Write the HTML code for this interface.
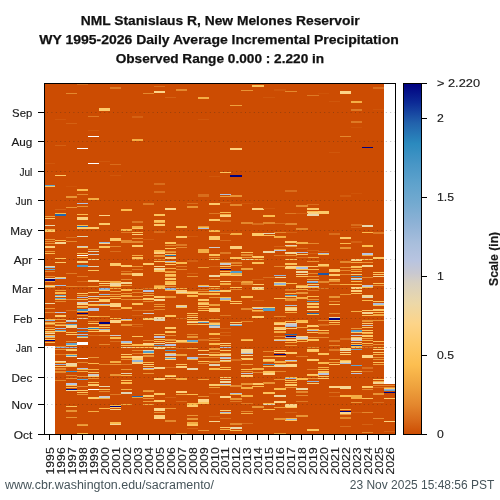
<!DOCTYPE html>
<html><head><meta charset="utf-8"><style>
html,body{margin:0;padding:0;background:#fff;width:500px;height:500px;overflow:hidden}
svg{display:block;will-change:transform}
text{font-family:"Liberation Sans",sans-serif;}
.tl{font-size:10.8px;fill:#1a1a1a;stroke:#1a1a1a;stroke-width:0.15px}
.tt{font-size:13.5px;font-weight:bold;fill:#111;stroke:#111;stroke-width:0.25px}
.ft{font-size:12px;fill:#46545a}
</style></head><body>
<svg width="500" height="500" viewBox="0 0 500 500">
<defs><filter id="vb" x="0" y="0" width="1" height="1"><feGaussianBlur stdDeviation="0.01 0.6"/></filter><linearGradient id="cb" x1="0" y1="1" x2="0" y2="0"><stop offset="0.0000" stop-color="#cc4c02"/><stop offset="0.0405" stop-color="#d86a1a"/><stop offset="0.0856" stop-color="#e4882e"/><stop offset="0.1441" stop-color="#f0a640"/><stop offset="0.1982" stop-color="#fcbe50"/><stop offset="0.2568" stop-color="#fdca6a"/><stop offset="0.3153" stop-color="#fdd488"/><stop offset="0.3739" stop-color="#ecd8a8"/><stop offset="0.4324" stop-color="#d8d0c0"/><stop offset="0.4595" stop-color="#c8c8d0"/><stop offset="0.4955" stop-color="#b8c4e0"/><stop offset="0.5450" stop-color="#a8bedc"/><stop offset="0.5991" stop-color="#8fb2d6"/><stop offset="0.6577" stop-color="#74aad0"/><stop offset="0.7162" stop-color="#5ea2cc"/><stop offset="0.7703" stop-color="#4896c6"/><stop offset="0.8288" stop-color="#2b8abe"/><stop offset="0.8874" stop-color="#2262ac"/><stop offset="0.9459" stop-color="#0c2a96"/><stop offset="1.0000" stop-color="#000080"/></linearGradient></defs>
<text x="220.2" y="25.2" text-anchor="middle" class="tt" textLength="279" lengthAdjust="spacingAndGlyphs">NML Stanislaus R, New Melones Reservoir</text>
<text x="219" y="44" text-anchor="middle" class="tt" textLength="359.5" lengthAdjust="spacingAndGlyphs">WY 1995-2026 Daily Average Incremental Precipitation</text>
<text x="219.9" y="63" text-anchor="middle" class="tt" textLength="208.5" lengthAdjust="spacingAndGlyphs">Observed Range 0.000 : 2.220 in</text>
<g shape-rendering="crispEdges">
<rect x="44.00" y="83" width="11.27" height="351" fill="#cc4c02"/>
<rect x="54.97" y="83" width="11.27" height="351" fill="#cc4c02"/>
<rect x="65.94" y="83" width="11.27" height="351" fill="#cc4c02"/>
<rect x="76.91" y="83" width="11.27" height="351" fill="#cc4c02"/>
<rect x="87.88" y="83" width="11.27" height="351" fill="#cc4c02"/>
<rect x="98.84" y="83" width="11.27" height="351" fill="#cc4c02"/>
<rect x="109.81" y="83" width="11.27" height="351" fill="#cc4c02"/>
<rect x="120.78" y="83" width="11.27" height="351" fill="#cc4c02"/>
<rect x="131.75" y="83" width="11.27" height="351" fill="#cc4c02"/>
<rect x="142.72" y="83" width="11.27" height="351" fill="#cc4c02"/>
<rect x="153.69" y="83" width="11.27" height="351" fill="#cc4c02"/>
<rect x="164.66" y="83" width="11.27" height="351" fill="#cc4c02"/>
<rect x="175.62" y="83" width="11.27" height="351" fill="#cc4c02"/>
<rect x="186.59" y="83" width="11.27" height="351" fill="#cc4c02"/>
<rect x="197.56" y="83" width="11.27" height="351" fill="#cc4c02"/>
<rect x="208.53" y="83" width="11.27" height="351" fill="#cc4c02"/>
<rect x="219.50" y="83" width="11.27" height="351" fill="#cc4c02"/>
<rect x="230.47" y="83" width="11.27" height="351" fill="#cc4c02"/>
<rect x="241.44" y="83" width="11.27" height="351" fill="#cc4c02"/>
<rect x="252.41" y="83" width="11.27" height="351" fill="#cc4c02"/>
<rect x="263.38" y="83" width="11.27" height="351" fill="#cc4c02"/>
<rect x="274.34" y="83" width="11.27" height="351" fill="#cc4c02"/>
<rect x="285.31" y="83" width="11.27" height="351" fill="#cc4c02"/>
<rect x="296.28" y="83" width="11.27" height="351" fill="#cc4c02"/>
<rect x="307.25" y="83" width="11.27" height="351" fill="#cc4c02"/>
<rect x="318.22" y="83" width="11.27" height="351" fill="#cc4c02"/>
<rect x="329.19" y="83" width="11.27" height="351" fill="#cc4c02"/>
<rect x="340.16" y="83" width="11.27" height="351" fill="#cc4c02"/>
<rect x="351.12" y="83" width="11.27" height="351" fill="#cc4c02"/>
<rect x="362.09" y="83" width="11.27" height="351" fill="#cc4c02"/>
<rect x="373.06" y="83" width="11.27" height="351" fill="#cc4c02"/>
<rect x="384.03" y="83" width="11.27" height="351" fill="#cc4c02"/>
<rect x="44" y="346" width="10.97" height="88" fill="#fff"/>
<rect x="384.03" y="83" width="11.97" height="301" fill="#fff"/>
<rect x="76.91" y="83.91" width="11.27" height="1.0" fill="#d96d1c"/>
<rect x="76.91" y="147.99" width="11.27" height="1.0" fill="#ffffff"/>
<rect x="76.91" y="189.49" width="11.27" height="1.06" fill="#fbbb4e"/>
<rect x="76.91" y="193.74" width="11.27" height="1.0" fill="#e4882e"/>
<rect x="76.91" y="202.89" width="11.27" height="1.0" fill="#b1c1de"/>
<rect x="76.91" y="205.68" width="11.27" height="1.06" fill="#e99435"/>
<rect x="76.91" y="213.61" width="11.27" height="1.06" fill="#fbbb4e"/>
<rect x="76.91" y="217.48" width="11.27" height="2.11" fill="#fdd07c"/>
<rect x="76.91" y="224.73" width="11.27" height="1.0" fill="#fbbb4e"/>
<rect x="76.91" y="225.96" width="11.27" height="1.0" fill="#2368af"/>
<rect x="76.91" y="227.34" width="11.27" height="1.41" fill="#fdca6a"/>
<rect x="76.91" y="235.99" width="11.27" height="1.0" fill="#e1d4b5"/>
<rect x="76.91" y="245.85" width="11.27" height="1.0" fill="#cdcbcb"/>
<rect x="76.91" y="247.06" width="11.27" height="1.41" fill="#fdca6a"/>
<rect x="76.91" y="252.89" width="11.27" height="1.0" fill="#fcc35c"/>
<rect x="76.91" y="254.65" width="11.27" height="1.0" fill="#ffffff"/>
<rect x="76.91" y="256.77" width="11.27" height="1.0" fill="#fbbb4e"/>
<rect x="76.91" y="260.76" width="11.27" height="1.76" fill="#fdd07c"/>
<rect x="76.91" y="265.16" width="11.27" height="1.76" fill="#539cc9"/>
<rect x="76.91" y="275.73" width="11.27" height="1.76" fill="#de7924"/>
<rect x="76.91" y="281.39" width="11.27" height="1.0" fill="#d96d1c"/>
<rect x="76.91" y="285.79" width="11.27" height="1.0" fill="#de7924"/>
<rect x="76.91" y="292.63" width="11.27" height="1.41" fill="#fdca6a"/>
<rect x="76.91" y="294.59" width="11.27" height="1.0" fill="#eea13d"/>
<rect x="76.91" y="296.85" width="11.27" height="1.06" fill="#a9bfdc"/>
<rect x="76.91" y="298.99" width="11.27" height="1.0" fill="#fbbb4e"/>
<rect x="76.91" y="301.63" width="11.27" height="1.0" fill="#cdcbcb"/>
<rect x="76.91" y="303.0" width="11.27" height="1.76" fill="#fdd488"/>
<rect x="76.91" y="305.67" width="11.27" height="1.0" fill="#fbbb4e"/>
<rect x="76.91" y="306.9" width="11.27" height="1.0" fill="#f4ae45"/>
<rect x="76.91" y="309.16" width="11.27" height="1.76" fill="#3f92c4"/>
<rect x="76.91" y="311.3" width="11.27" height="1.0" fill="#fbbb4e"/>
<rect x="76.91" y="313.04" width="11.27" height="1.06" fill="#000080"/>
<rect x="76.91" y="314.82" width="11.27" height="1.0" fill="#eea13d"/>
<rect x="76.91" y="317.96" width="11.27" height="1.06" fill="#e1d4b5"/>
<rect x="76.91" y="328.0" width="11.27" height="1.06" fill="#95b5d8"/>
<rect x="76.91" y="330.64" width="11.27" height="1.76" fill="#539cc9"/>
<rect x="76.91" y="333.99" width="11.27" height="1.41" fill="#a9bfdc"/>
<rect x="76.91" y="335.6" width="11.27" height="1.0" fill="#65a4cd"/>
<rect x="76.91" y="336.83" width="11.27" height="1.0" fill="#fdca6a"/>
<rect x="76.91" y="342.26" width="11.27" height="2.46" fill="#ffffff"/>
<rect x="76.91" y="357.92" width="11.27" height="1.06" fill="#ffffff"/>
<rect x="76.91" y="361.99" width="11.27" height="1.0" fill="#e4882e"/>
<rect x="76.91" y="367.6" width="11.27" height="1.06" fill="#b1c1de"/>
<rect x="76.91" y="368.83" width="11.27" height="1.41" fill="#fbbb4e"/>
<rect x="76.91" y="370.77" width="11.27" height="1.06" fill="#f4ae45"/>
<rect x="76.91" y="375.55" width="11.27" height="1.0" fill="#e99435"/>
<rect x="76.91" y="378.69" width="11.27" height="1.76" fill="#65a4cd"/>
<rect x="76.91" y="385.58" width="11.27" height="1.0" fill="#e4882e"/>
<rect x="76.91" y="389.61" width="11.27" height="1.06" fill="#fdca6a"/>
<rect x="76.91" y="391.88" width="11.27" height="1.06" fill="#fcc35c"/>
<rect x="76.91" y="393.64" width="11.27" height="1.06" fill="#e99435"/>
<rect x="76.91" y="423.57" width="11.27" height="1.76" fill="#e99435"/>
<rect x="76.91" y="425.33" width="11.27" height="1.06" fill="#eea13d"/>
<rect x="76.91" y="432.73" width="11.27" height="1.06" fill="#fbbb4e"/>
<rect x="109.81" y="87.23" width="11.27" height="1.41" fill="#de7924"/>
<rect x="109.81" y="164.01" width="11.27" height="1.0" fill="#d96d1c"/>
<rect x="109.81" y="175.43" width="11.27" height="1.0" fill="#d0570b"/>
<rect x="109.81" y="238.25" width="11.27" height="2.82" fill="#fdca6a"/>
<rect x="109.81" y="246.0" width="11.27" height="1.41" fill="#e4882e"/>
<rect x="109.81" y="251.13" width="11.27" height="1.0" fill="#d96d1c"/>
<rect x="109.81" y="263.23" width="11.27" height="2.82" fill="#fdca6a"/>
<rect x="109.81" y="281.01" width="11.27" height="1.76" fill="#f4ae45"/>
<rect x="109.81" y="283.3" width="11.27" height="2.46" fill="#f0d7a1"/>
<rect x="109.81" y="285.76" width="11.27" height="1.06" fill="#fbbb4e"/>
<rect x="109.81" y="288.4" width="11.27" height="1.06" fill="#f4ae45"/>
<rect x="109.81" y="290.69" width="11.27" height="1.76" fill="#eea13d"/>
<rect x="109.81" y="293.51" width="11.27" height="1.41" fill="#e99435"/>
<rect x="109.81" y="295.8" width="11.27" height="1.06" fill="#f4ae45"/>
<rect x="109.81" y="298.08" width="11.27" height="1.06" fill="#fbbb4e"/>
<rect x="109.81" y="303.35" width="11.27" height="2.11" fill="#fdd07c"/>
<rect x="109.81" y="305.29" width="11.27" height="1.76" fill="#fdd488"/>
<rect x="109.81" y="308.66" width="11.27" height="1.0" fill="#de7924"/>
<rect x="109.81" y="318.32" width="11.27" height="1.06" fill="#fbbb4e"/>
<rect x="109.81" y="319.9" width="11.27" height="3.17" fill="#fdd488"/>
<rect x="109.81" y="334.69" width="11.27" height="1.76" fill="#cdcbcb"/>
<rect x="109.81" y="337.33" width="11.27" height="1.76" fill="#fbbb4e"/>
<rect x="109.81" y="340.88" width="11.27" height="1.0" fill="#d96d1c"/>
<rect x="109.81" y="360.73" width="11.27" height="2.46" fill="#f4ae45"/>
<rect x="109.81" y="363.9" width="11.27" height="1.41" fill="#e99435"/>
<rect x="109.81" y="374.29" width="11.27" height="1.76" fill="#e99435"/>
<rect x="109.81" y="393.67" width="11.27" height="1.0" fill="#de7924"/>
<rect x="109.81" y="404.58" width="11.27" height="1.0" fill="#fbbb4e"/>
<rect x="109.81" y="405.61" width="11.27" height="1.06" fill="#000080"/>
<rect x="109.81" y="407.2" width="11.27" height="1.06" fill="#fdca6a"/>
<rect x="109.81" y="408.96" width="11.27" height="1.06" fill="#fdd488"/>
<rect x="109.81" y="422.34" width="11.27" height="1.41" fill="#fbbb4e"/>
<rect x="109.81" y="423.57" width="11.27" height="1.76" fill="#f6d694"/>
<rect x="65.94" y="93.06" width="11.27" height="1.0" fill="#e4882e"/>
<rect x="65.94" y="122.99" width="11.27" height="1.0" fill="#d46113"/>
<rect x="65.94" y="186.35" width="11.27" height="1.0" fill="#cf5408"/>
<rect x="65.94" y="196.18" width="11.27" height="1.76" fill="#e99435"/>
<rect x="65.94" y="206.92" width="11.27" height="1.06" fill="#e99435"/>
<rect x="65.94" y="237.05" width="11.27" height="1.0" fill="#d96d1c"/>
<rect x="65.94" y="240.92" width="11.27" height="1.0" fill="#e4882e"/>
<rect x="65.94" y="272.56" width="11.27" height="1.06" fill="#de7924"/>
<rect x="65.94" y="285.76" width="11.27" height="1.06" fill="#e4882e"/>
<rect x="65.94" y="299.32" width="11.27" height="1.06" fill="#e4882e"/>
<rect x="65.94" y="309.54" width="11.27" height="1.0" fill="#d96d1c"/>
<rect x="65.94" y="320.08" width="11.27" height="1.06" fill="#e1d4b5"/>
<rect x="65.94" y="321.31" width="11.27" height="1.06" fill="#a9bfdc"/>
<rect x="65.94" y="323.98" width="11.27" height="1.0" fill="#65a4cd"/>
<rect x="65.94" y="324.83" width="11.27" height="2.82" fill="#f6d694"/>
<rect x="65.94" y="331.52" width="11.27" height="1.06" fill="#fbbb4e"/>
<rect x="65.94" y="333.81" width="11.27" height="1.06" fill="#fdca6a"/>
<rect x="65.94" y="340.88" width="11.27" height="1.0" fill="#e4882e"/>
<rect x="65.94" y="342.96" width="11.27" height="1.76" fill="#65a4cd"/>
<rect x="65.94" y="345.25" width="11.27" height="1.06" fill="#fdca6a"/>
<rect x="65.94" y="346.85" width="11.27" height="1.0" fill="#95b5d8"/>
<rect x="65.94" y="349.46" width="11.27" height="1.41" fill="#fdca6a"/>
<rect x="65.94" y="353.89" width="11.27" height="1.0" fill="#fbbb4e"/>
<rect x="65.94" y="354.95" width="11.27" height="1.0" fill="#539cc9"/>
<rect x="65.94" y="356.18" width="11.27" height="1.0" fill="#f0d7a1"/>
<rect x="65.94" y="363.37" width="11.27" height="2.46" fill="#f0d7a1"/>
<rect x="65.94" y="365.87" width="11.27" height="1.0" fill="#fcc35c"/>
<rect x="65.94" y="370.77" width="11.27" height="1.06" fill="#3f92c4"/>
<rect x="65.94" y="374.67" width="11.27" height="1.0" fill="#e4882e"/>
<rect x="65.94" y="378.19" width="11.27" height="1.0" fill="#e99435"/>
<rect x="65.94" y="382.74" width="11.27" height="1.76" fill="#b8c4e0"/>
<rect x="65.94" y="384.88" width="11.27" height="1.0" fill="#fcc35c"/>
<rect x="65.94" y="387.35" width="11.27" height="1.0" fill="#fbbb4e"/>
<rect x="65.94" y="388.73" width="11.27" height="1.06" fill="#07198d"/>
<rect x="65.94" y="389.99" width="11.27" height="1.0" fill="#f0d7a1"/>
<rect x="65.94" y="405.96" width="11.27" height="1.06" fill="#fcc35c"/>
<rect x="65.94" y="409.84" width="11.27" height="1.76" fill="#e99435"/>
<rect x="65.94" y="416.88" width="11.27" height="1.06" fill="#e99435"/>
<rect x="98.84" y="107.65" width="11.27" height="3.17" fill="#fdca6a"/>
<rect x="98.84" y="161.37" width="11.27" height="1.0" fill="#d0570b"/>
<rect x="98.84" y="214.84" width="11.27" height="1.41" fill="#fdd488"/>
<rect x="98.84" y="222.94" width="11.27" height="1.76" fill="#fdca6a"/>
<rect x="98.84" y="241.77" width="11.27" height="1.06" fill="#95b5d8"/>
<rect x="98.84" y="243.04" width="11.27" height="1.0" fill="#fdd488"/>
<rect x="98.84" y="246.35" width="11.27" height="1.41" fill="#fcc35c"/>
<rect x="98.84" y="281.36" width="11.27" height="1.06" fill="#fbbb4e"/>
<rect x="98.84" y="282.59" width="11.27" height="1.41" fill="#fdd488"/>
<rect x="98.84" y="284.53" width="11.27" height="1.06" fill="#f4ae45"/>
<rect x="98.84" y="288.23" width="11.27" height="1.41" fill="#95b5d8"/>
<rect x="98.84" y="289.81" width="11.27" height="1.06" fill="#fdca6a"/>
<rect x="98.84" y="293.68" width="11.27" height="1.06" fill="#95b5d8"/>
<rect x="98.84" y="295.8" width="11.27" height="1.06" fill="#fbbb4e"/>
<rect x="98.84" y="299.14" width="11.27" height="2.46" fill="#fdca6a"/>
<rect x="98.84" y="303.7" width="11.27" height="1.41" fill="#a9bfdc"/>
<rect x="98.84" y="305.11" width="11.27" height="1.06" fill="#fcc35c"/>
<rect x="98.84" y="315.68" width="11.27" height="1.06" fill="#eea13d"/>
<rect x="98.84" y="321.66" width="11.27" height="2.11" fill="#000080"/>
<rect x="98.84" y="323.98" width="11.27" height="1.0" fill="#e99435"/>
<rect x="98.84" y="325.36" width="11.27" height="1.06" fill="#fcc35c"/>
<rect x="98.84" y="327.15" width="11.27" height="1.0" fill="#fbbb4e"/>
<rect x="98.84" y="328.88" width="11.27" height="1.06" fill="#95b5d8"/>
<rect x="98.84" y="330.46" width="11.27" height="1.41" fill="#fdd07c"/>
<rect x="98.84" y="335.07" width="11.27" height="1.0" fill="#de7924"/>
<rect x="98.84" y="343.87" width="11.27" height="1.0" fill="#e4882e"/>
<rect x="98.84" y="363.73" width="11.27" height="1.06" fill="#e4882e"/>
<rect x="98.84" y="386.08" width="11.27" height="1.06" fill="#e9d7ac"/>
<rect x="98.84" y="388.73" width="11.27" height="1.06" fill="#fcc35c"/>
<rect x="98.84" y="390.85" width="11.27" height="1.0" fill="#e4882e"/>
<rect x="98.84" y="396.46" width="11.27" height="1.41" fill="#cdcbcb"/>
<rect x="98.84" y="397.89" width="11.27" height="1.0" fill="#f4ae45"/>
<rect x="98.84" y="407.73" width="11.27" height="1.06" fill="#fbbb4e"/>
<rect x="87.88" y="115.95" width="11.27" height="1.0" fill="#de7924"/>
<rect x="87.88" y="130.39" width="11.27" height="1.0" fill="#d0570b"/>
<rect x="87.88" y="135.85" width="11.27" height="1.0" fill="#ffffff"/>
<rect x="87.88" y="162.96" width="11.27" height="1.0" fill="#ffffff"/>
<rect x="87.88" y="197.94" width="11.27" height="1.76" fill="#f4ae45"/>
<rect x="87.88" y="227.16" width="11.27" height="1.41" fill="#fdca6a"/>
<rect x="87.88" y="248.85" width="11.27" height="1.0" fill="#e99435"/>
<rect x="87.88" y="251.11" width="11.27" height="1.06" fill="#e1d4b5"/>
<rect x="87.88" y="253.6" width="11.27" height="1.0" fill="#cdcbcb"/>
<rect x="87.88" y="258.82" width="11.27" height="1.06" fill="#fdd488"/>
<rect x="87.88" y="266.39" width="11.27" height="1.06" fill="#e1d4b5"/>
<rect x="87.88" y="269.92" width="11.27" height="1.06" fill="#fcc35c"/>
<rect x="87.88" y="280.48" width="11.27" height="1.06" fill="#fdd488"/>
<rect x="87.88" y="285.76" width="11.27" height="1.06" fill="#eea13d"/>
<rect x="87.88" y="291.92" width="11.27" height="1.06" fill="#fcc35c"/>
<rect x="87.88" y="295.8" width="11.27" height="1.06" fill="#cdcbcb"/>
<rect x="87.88" y="297.91" width="11.27" height="1.41" fill="#fbbb4e"/>
<rect x="87.88" y="300.73" width="11.27" height="1.06" fill="#e1d4b5"/>
<rect x="87.88" y="304.41" width="11.27" height="1.41" fill="#fbbb4e"/>
<rect x="87.88" y="307.58" width="11.27" height="3.17" fill="#b8c4e0"/>
<rect x="87.88" y="315.68" width="11.27" height="1.06" fill="#fbbb4e"/>
<rect x="87.88" y="320.96" width="11.27" height="1.06" fill="#e99435"/>
<rect x="87.88" y="323.25" width="11.27" height="1.06" fill="#fdca6a"/>
<rect x="87.88" y="326.77" width="11.27" height="1.06" fill="#fdca6a"/>
<rect x="87.88" y="328.0" width="11.27" height="1.06" fill="#2a87bd"/>
<rect x="87.88" y="329.26" width="11.27" height="1.0" fill="#fbbb4e"/>
<rect x="87.88" y="330.99" width="11.27" height="1.06" fill="#fcc35c"/>
<rect x="87.88" y="335.07" width="11.27" height="1.0" fill="#d96d1c"/>
<rect x="87.88" y="356.71" width="11.27" height="1.0" fill="#e99435"/>
<rect x="87.88" y="362.67" width="11.27" height="1.06" fill="#fbbb4e"/>
<rect x="87.88" y="369.36" width="11.27" height="1.06" fill="#f4ae45"/>
<rect x="87.88" y="372.0" width="11.27" height="1.06" fill="#fcc35c"/>
<rect x="87.88" y="374.46" width="11.27" height="1.41" fill="#cdcbcb"/>
<rect x="87.88" y="376.08" width="11.27" height="1.0" fill="#fdca6a"/>
<rect x="87.88" y="378.19" width="11.27" height="1.0" fill="#e99435"/>
<rect x="87.88" y="381.68" width="11.27" height="1.06" fill="#fbbb4e"/>
<rect x="87.88" y="384.15" width="11.27" height="1.41" fill="#fdca6a"/>
<rect x="87.88" y="388.73" width="11.27" height="1.06" fill="#ffffff"/>
<rect x="87.88" y="397.16" width="11.27" height="1.76" fill="#fdca6a"/>
<rect x="87.88" y="410.72" width="11.27" height="1.06" fill="#f4ae45"/>
<rect x="54.97" y="119.12" width="11.27" height="1.0" fill="#d0570b"/>
<rect x="54.97" y="145.0" width="11.27" height="1.0" fill="#d46113"/>
<rect x="54.97" y="174.7" width="11.27" height="1.41" fill="#fdca6a"/>
<rect x="54.97" y="208.88" width="11.27" height="1.0" fill="#d46113"/>
<rect x="54.97" y="212.75" width="11.27" height="1.0" fill="#fbbb4e"/>
<rect x="54.97" y="214.31" width="11.27" height="1.41" fill="#2368af"/>
<rect x="54.97" y="240.01" width="11.27" height="1.06" fill="#fbbb4e"/>
<rect x="54.97" y="242.13" width="11.27" height="2.11" fill="#f6d694"/>
<rect x="54.97" y="257.62" width="11.27" height="1.06" fill="#fcc35c"/>
<rect x="54.97" y="261.64" width="11.27" height="1.06" fill="#fdca6a"/>
<rect x="54.97" y="276.99" width="11.27" height="1.0" fill="#fdca6a"/>
<rect x="54.97" y="277.87" width="11.27" height="1.0" fill="#a9bfdc"/>
<rect x="54.97" y="284.88" width="11.27" height="1.06" fill="#a9bfdc"/>
<rect x="54.97" y="289.99" width="11.27" height="1.41" fill="#eea13d"/>
<rect x="54.97" y="292.45" width="11.27" height="1.76" fill="#fbbb4e"/>
<rect x="54.97" y="295.09" width="11.27" height="1.06" fill="#65a4cd"/>
<rect x="54.97" y="296.32" width="11.27" height="1.06" fill="#fdd488"/>
<rect x="54.97" y="297.56" width="11.27" height="1.06" fill="#65a4cd"/>
<rect x="54.97" y="298.99" width="11.27" height="1.0" fill="#fbbb4e"/>
<rect x="54.97" y="300.75" width="11.27" height="1.0" fill="#e4882e"/>
<rect x="54.97" y="311.63" width="11.27" height="1.06" fill="#b8c4e0"/>
<rect x="54.97" y="314.8" width="11.27" height="1.76" fill="#fdca6a"/>
<rect x="54.97" y="319.2" width="11.27" height="1.06" fill="#eea13d"/>
<rect x="54.97" y="321.84" width="11.27" height="1.06" fill="#f4ae45"/>
<rect x="54.97" y="323.63" width="11.27" height="1.0" fill="#e4882e"/>
<rect x="54.97" y="325.36" width="11.27" height="1.06" fill="#fcc35c"/>
<rect x="54.97" y="327.65" width="11.27" height="1.06" fill="#a9bfdc"/>
<rect x="54.97" y="329.76" width="11.27" height="1.06" fill="#65a4cd"/>
<rect x="54.97" y="330.67" width="11.27" height="1.0" fill="#fcc35c"/>
<rect x="54.97" y="345.61" width="11.27" height="1.06" fill="#e4882e"/>
<rect x="54.97" y="346.85" width="11.27" height="1.0" fill="#95b5d8"/>
<rect x="54.97" y="349.11" width="11.27" height="1.06" fill="#e99435"/>
<rect x="54.97" y="353.89" width="11.27" height="1.0" fill="#de7924"/>
<rect x="54.97" y="360.56" width="11.27" height="1.06" fill="#f0d7a1"/>
<rect x="54.97" y="361.99" width="11.27" height="1.0" fill="#fbbb4e"/>
<rect x="54.97" y="363.73" width="11.27" height="1.76" fill="#95b5d8"/>
<rect x="54.97" y="365.87" width="11.27" height="1.0" fill="#fdca6a"/>
<rect x="54.97" y="368.48" width="11.27" height="1.06" fill="#e4882e"/>
<rect x="54.97" y="371.12" width="11.27" height="1.76" fill="#e4882e"/>
<rect x="54.97" y="379.95" width="11.27" height="1.0" fill="#e4882e"/>
<rect x="44.00" y="162.96" width="11.27" height="1.0" fill="#d0570b"/>
<rect x="44.00" y="184.58" width="11.27" height="1.0" fill="#65a4cd"/>
<rect x="44.00" y="185.64" width="11.27" height="1.0" fill="#fcc35c"/>
<rect x="44.00" y="216.25" width="11.27" height="1.06" fill="#eea13d"/>
<rect x="44.00" y="217.65" width="11.27" height="1.06" fill="#fdca6a"/>
<rect x="44.00" y="225.05" width="11.27" height="1.06" fill="#e9d7ac"/>
<rect x="44.00" y="228.57" width="11.27" height="1.06" fill="#f4ae45"/>
<rect x="44.00" y="230.15" width="11.27" height="2.11" fill="#fdca6a"/>
<rect x="44.00" y="239.13" width="11.27" height="1.06" fill="#e99435"/>
<rect x="44.00" y="240.89" width="11.27" height="1.06" fill="#e4882e"/>
<rect x="44.00" y="242.68" width="11.27" height="1.0" fill="#e99435"/>
<rect x="44.00" y="245.82" width="11.27" height="1.76" fill="#fdd07c"/>
<rect x="44.00" y="251.49" width="11.27" height="1.0" fill="#e99435"/>
<rect x="44.00" y="252.89" width="11.27" height="1.0" fill="#fbbb4e"/>
<rect x="44.00" y="265.89" width="11.27" height="1.0" fill="#f0d7a1"/>
<rect x="44.00" y="266.92" width="11.27" height="1.06" fill="#95b5d8"/>
<rect x="44.00" y="268.68" width="11.27" height="1.06" fill="#65a4cd"/>
<rect x="44.00" y="270.97" width="11.27" height="1.41" fill="#e4882e"/>
<rect x="44.00" y="275.73" width="11.27" height="1.06" fill="#e4882e"/>
<rect x="44.00" y="277.51" width="11.27" height="1.0" fill="#e9d7ac"/>
<rect x="44.00" y="278.75" width="11.27" height="1.0" fill="#fbbb4e"/>
<rect x="44.00" y="279.42" width="11.27" height="1.41" fill="#000080"/>
<rect x="44.00" y="281.04" width="11.27" height="1.0" fill="#eea13d"/>
<rect x="44.00" y="285.23" width="11.27" height="1.06" fill="#fbbb4e"/>
<rect x="44.00" y="286.14" width="11.27" height="1.0" fill="#e9d7ac"/>
<rect x="44.00" y="287.2" width="11.27" height="1.0" fill="#e4882e"/>
<rect x="44.00" y="302.82" width="11.27" height="1.06" fill="#f0d7a1"/>
<rect x="44.00" y="307.75" width="11.27" height="1.06" fill="#e99435"/>
<rect x="44.00" y="312.15" width="11.27" height="1.06" fill="#e4882e"/>
<rect x="44.00" y="318.85" width="11.27" height="1.06" fill="#fbbb4e"/>
<rect x="44.00" y="320.08" width="11.27" height="1.06" fill="#95b5d8"/>
<rect x="44.00" y="321.51" width="11.27" height="1.0" fill="#eea13d"/>
<rect x="44.00" y="322.54" width="11.27" height="1.41" fill="#fdca6a"/>
<rect x="44.00" y="323.98" width="11.27" height="1.0" fill="#e99435"/>
<rect x="44.00" y="327.12" width="11.27" height="1.06" fill="#e99435"/>
<rect x="44.00" y="329.06" width="11.27" height="1.41" fill="#fbbb4e"/>
<rect x="44.00" y="330.64" width="11.27" height="1.06" fill="#fdca6a"/>
<rect x="44.00" y="332.08" width="11.27" height="1.0" fill="#eea13d"/>
<rect x="44.00" y="333.28" width="11.27" height="1.06" fill="#f0d7a1"/>
<rect x="44.00" y="334.51" width="11.27" height="1.06" fill="#fcc35c"/>
<rect x="44.00" y="335.92" width="11.27" height="1.06" fill="#a9bfdc"/>
<rect x="44.00" y="337.36" width="11.27" height="1.0" fill="#fbbb4e"/>
<rect x="44.00" y="338.59" width="11.27" height="1.0" fill="#fdca6a"/>
<rect x="44.00" y="340.32" width="11.27" height="1.06" fill="#000080"/>
<rect x="44.00" y="342.08" width="11.27" height="1.06" fill="#fbbb4e"/>
<rect x="153.69" y="85.64" width="11.27" height="1.06" fill="#d96d1c"/>
<rect x="153.69" y="90.92" width="11.27" height="1.76" fill="#fdd488"/>
<rect x="153.69" y="183.15" width="11.27" height="1.41" fill="#d96d1c"/>
<rect x="153.69" y="191.25" width="11.27" height="1.76" fill="#d96d1c"/>
<rect x="153.69" y="213.78" width="11.27" height="1.76" fill="#fcc35c"/>
<rect x="153.69" y="219.94" width="11.27" height="1.76" fill="#fcc35c"/>
<rect x="153.69" y="222.08" width="11.27" height="1.0" fill="#f4ae45"/>
<rect x="153.69" y="223.82" width="11.27" height="1.76" fill="#fdca6a"/>
<rect x="153.69" y="231.39" width="11.27" height="1.41" fill="#d96d1c"/>
<rect x="153.69" y="250.23" width="11.27" height="1.76" fill="#fbbb4e"/>
<rect x="153.69" y="252.16" width="11.27" height="1.41" fill="#fdd07c"/>
<rect x="153.69" y="255.15" width="11.27" height="1.41" fill="#e99435"/>
<rect x="153.69" y="259.35" width="11.27" height="1.06" fill="#e4882e"/>
<rect x="153.69" y="260.94" width="11.27" height="1.41" fill="#fdca6a"/>
<rect x="153.69" y="265.51" width="11.27" height="1.76" fill="#fdd488"/>
<rect x="153.69" y="267.8" width="11.27" height="1.76" fill="#f0d7a1"/>
<rect x="153.69" y="270.27" width="11.27" height="1.41" fill="#fcc35c"/>
<rect x="153.69" y="284.7" width="11.27" height="1.41" fill="#e99435"/>
<rect x="153.69" y="286.46" width="11.27" height="1.41" fill="#fbbb4e"/>
<rect x="153.69" y="288.43" width="11.27" height="1.0" fill="#fcc35c"/>
<rect x="153.69" y="295.97" width="11.27" height="1.76" fill="#fdca6a"/>
<rect x="153.69" y="298.96" width="11.27" height="1.76" fill="#f6d694"/>
<rect x="153.69" y="303.7" width="11.27" height="1.41" fill="#e99435"/>
<rect x="153.69" y="306.35" width="11.27" height="1.06" fill="#eea13d"/>
<rect x="153.69" y="309.19" width="11.27" height="1.0" fill="#e4882e"/>
<rect x="153.69" y="317.08" width="11.27" height="1.76" fill="#f6d694"/>
<rect x="153.69" y="318.85" width="11.27" height="1.76" fill="#e1d4b5"/>
<rect x="153.69" y="334.16" width="11.27" height="1.06" fill="#fbbb4e"/>
<rect x="153.69" y="335.75" width="11.27" height="2.46" fill="#b8c4e0"/>
<rect x="153.69" y="338.59" width="11.27" height="1.0" fill="#fcc35c"/>
<rect x="153.69" y="341.2" width="11.27" height="1.06" fill="#fbbb4e"/>
<rect x="153.69" y="342.61" width="11.27" height="1.76" fill="#e9d7ac"/>
<rect x="153.69" y="345.25" width="11.27" height="1.06" fill="#65a4cd"/>
<rect x="153.69" y="347.0" width="11.27" height="1.76" fill="#f6d694"/>
<rect x="153.69" y="366.89" width="11.27" height="2.46" fill="#f6d694"/>
<rect x="153.69" y="377.63" width="11.27" height="2.11" fill="#fdd07c"/>
<rect x="153.69" y="392.76" width="11.27" height="1.76" fill="#fcc35c"/>
<rect x="153.69" y="399.8" width="11.27" height="1.76" fill="#fdca6a"/>
<rect x="153.69" y="408.25" width="11.27" height="2.46" fill="#fdd488"/>
<rect x="153.69" y="411.6" width="11.27" height="1.06" fill="#e99435"/>
<rect x="153.69" y="414.77" width="11.27" height="1.76" fill="#fdd07c"/>
<rect x="153.69" y="416.88" width="11.27" height="1.76" fill="#fdd488"/>
<rect x="142.72" y="92.54" width="11.27" height="1.0" fill="#e4882e"/>
<rect x="142.72" y="203.22" width="11.27" height="1.41" fill="#de7924"/>
<rect x="142.72" y="238.96" width="11.27" height="1.41" fill="#d25b0e"/>
<rect x="142.72" y="263.05" width="11.27" height="1.76" fill="#fdca6a"/>
<rect x="142.72" y="287.52" width="11.27" height="1.06" fill="#de7924"/>
<rect x="142.72" y="290.34" width="11.27" height="1.41" fill="#b8c4e0"/>
<rect x="142.72" y="292.8" width="11.27" height="1.06" fill="#e99435"/>
<rect x="142.72" y="294.56" width="11.27" height="1.06" fill="#f4ae45"/>
<rect x="142.72" y="297.91" width="11.27" height="2.46" fill="#fdca6a"/>
<rect x="142.72" y="300.73" width="11.27" height="1.06" fill="#e4882e"/>
<rect x="142.72" y="309.54" width="11.27" height="1.0" fill="#de7924"/>
<rect x="142.72" y="312.68" width="11.27" height="1.06" fill="#cdcbcb"/>
<rect x="142.72" y="317.79" width="11.27" height="2.11" fill="#fdca6a"/>
<rect x="142.72" y="340.32" width="11.27" height="1.06" fill="#e4882e"/>
<rect x="142.72" y="342.96" width="11.27" height="1.76" fill="#fdd488"/>
<rect x="142.72" y="345.08" width="11.27" height="1.06" fill="#fbbb4e"/>
<rect x="142.72" y="347.35" width="11.27" height="1.06" fill="#fcc35c"/>
<rect x="142.72" y="349.99" width="11.27" height="1.06" fill="#e1d4b5"/>
<rect x="142.72" y="351.23" width="11.27" height="1.41" fill="#539cc9"/>
<rect x="142.72" y="353.16" width="11.27" height="1.06" fill="#fdca6a"/>
<rect x="142.72" y="355.45" width="11.27" height="1.41" fill="#e99435"/>
<rect x="142.72" y="361.61" width="11.27" height="1.76" fill="#fbbb4e"/>
<rect x="142.72" y="363.73" width="11.27" height="1.76" fill="#fdd07c"/>
<rect x="142.72" y="366.01" width="11.27" height="1.41" fill="#fcc35c"/>
<rect x="142.72" y="367.95" width="11.27" height="1.06" fill="#b8c4e0"/>
<rect x="142.72" y="369.04" width="11.27" height="1.0" fill="#fbbb4e"/>
<rect x="142.72" y="373.06" width="11.27" height="1.41" fill="#e99435"/>
<rect x="142.72" y="389.61" width="11.27" height="1.06" fill="#e99435"/>
<rect x="142.72" y="390.85" width="11.27" height="1.0" fill="#eea13d"/>
<rect x="142.72" y="395.05" width="11.27" height="1.76" fill="#fdca6a"/>
<rect x="142.72" y="397.87" width="11.27" height="1.06" fill="#e99435"/>
<rect x="142.72" y="400.68" width="11.27" height="1.76" fill="#eea13d"/>
<rect x="142.72" y="403.68" width="11.27" height="1.06" fill="#f4ae45"/>
<rect x="175.62" y="89.16" width="11.27" height="1.76" fill="#e4882e"/>
<rect x="175.62" y="226.28" width="11.27" height="2.11" fill="#fcc35c"/>
<rect x="175.62" y="235.79" width="11.27" height="2.46" fill="#fdca6a"/>
<rect x="175.62" y="244.24" width="11.27" height="1.41" fill="#de7924"/>
<rect x="175.62" y="247.06" width="11.27" height="1.41" fill="#e4882e"/>
<rect x="175.62" y="261.99" width="11.27" height="1.76" fill="#fbbb4e"/>
<rect x="175.62" y="266.42" width="11.27" height="1.0" fill="#de7924"/>
<rect x="175.62" y="268.51" width="11.27" height="1.41" fill="#e4882e"/>
<rect x="175.62" y="287.52" width="11.27" height="1.06" fill="#f4ae45"/>
<rect x="175.62" y="289.81" width="11.27" height="1.76" fill="#fdd07c"/>
<rect x="175.62" y="291.57" width="11.27" height="1.76" fill="#e9d7ac"/>
<rect x="175.62" y="293.36" width="11.27" height="1.0" fill="#fbbb4e"/>
<rect x="175.62" y="304.58" width="11.27" height="1.06" fill="#fdd07c"/>
<rect x="175.62" y="305.82" width="11.27" height="1.41" fill="#cdcbcb"/>
<rect x="175.62" y="307.4" width="11.27" height="1.06" fill="#fcc35c"/>
<rect x="175.62" y="318.35" width="11.27" height="1.0" fill="#d96d1c"/>
<rect x="175.62" y="339.97" width="11.27" height="1.76" fill="#fdca6a"/>
<rect x="175.62" y="342.11" width="11.27" height="1.0" fill="#eea13d"/>
<rect x="175.62" y="348.23" width="11.27" height="1.06" fill="#d96d1c"/>
<rect x="175.62" y="354.22" width="11.27" height="1.41" fill="#eea13d"/>
<rect x="175.62" y="363.9" width="11.27" height="1.41" fill="#fcc35c"/>
<rect x="175.62" y="365.84" width="11.27" height="1.76" fill="#fdd07c"/>
<rect x="175.62" y="377.81" width="11.27" height="1.76" fill="#f4ae45"/>
<rect x="175.62" y="391.0" width="11.27" height="1.76" fill="#fdd07c"/>
<rect x="175.62" y="393.99" width="11.27" height="1.06" fill="#eea13d"/>
<rect x="175.62" y="401.06" width="11.27" height="1.0" fill="#d96d1c"/>
<rect x="175.62" y="432.73" width="11.27" height="1.06" fill="#e4882e"/>
<rect x="164.66" y="96.94" width="11.27" height="1.0" fill="#d46113"/>
<rect x="164.66" y="207.97" width="11.27" height="1.76" fill="#fdd488"/>
<rect x="164.66" y="242.13" width="11.27" height="1.41" fill="#fcc35c"/>
<rect x="164.66" y="244.77" width="11.27" height="1.06" fill="#e4882e"/>
<rect x="164.66" y="247.58" width="11.27" height="1.76" fill="#fcc35c"/>
<rect x="164.66" y="250.61" width="11.27" height="1.0" fill="#e4882e"/>
<rect x="164.66" y="251.81" width="11.27" height="1.06" fill="#eea13d"/>
<rect x="164.66" y="254.13" width="11.27" height="1.0" fill="#fdca6a"/>
<rect x="164.66" y="255.33" width="11.27" height="1.06" fill="#2778b6"/>
<rect x="164.66" y="256.74" width="11.27" height="1.76" fill="#fdd07c"/>
<rect x="164.66" y="260.58" width="11.27" height="1.41" fill="#a9bfdc"/>
<rect x="164.66" y="262.02" width="11.27" height="1.0" fill="#fbbb4e"/>
<rect x="164.66" y="263.93" width="11.27" height="1.41" fill="#fdca6a"/>
<rect x="164.66" y="267.98" width="11.27" height="1.41" fill="#f4ae45"/>
<rect x="164.66" y="271.32" width="11.27" height="1.76" fill="#eea13d"/>
<rect x="164.66" y="274.14" width="11.27" height="1.41" fill="#fcc35c"/>
<rect x="164.66" y="276.08" width="11.27" height="1.06" fill="#eea13d"/>
<rect x="164.66" y="278.37" width="11.27" height="1.76" fill="#fdca6a"/>
<rect x="164.66" y="281.18" width="11.27" height="1.41" fill="#fbbb4e"/>
<rect x="164.66" y="283.47" width="11.27" height="1.06" fill="#fcc35c"/>
<rect x="164.66" y="285.76" width="11.27" height="1.06" fill="#e99435"/>
<rect x="164.66" y="288.23" width="11.27" height="1.41" fill="#95b5d8"/>
<rect x="164.66" y="289.84" width="11.27" height="1.0" fill="#f4ae45"/>
<rect x="164.66" y="295.97" width="11.27" height="1.76" fill="#e99435"/>
<rect x="164.66" y="314.8" width="11.27" height="1.76" fill="#fcc35c"/>
<rect x="164.66" y="327.12" width="11.27" height="1.76" fill="#fdca6a"/>
<rect x="164.66" y="330.82" width="11.27" height="2.46" fill="#fcc35c"/>
<rect x="164.66" y="335.07" width="11.27" height="1.0" fill="#e4882e"/>
<rect x="164.66" y="339.44" width="11.27" height="1.06" fill="#e99435"/>
<rect x="164.66" y="342.08" width="11.27" height="1.06" fill="#fdca6a"/>
<rect x="164.66" y="343.67" width="11.27" height="2.46" fill="#b8c4e0"/>
<rect x="164.66" y="347.35" width="11.27" height="1.06" fill="#fcc35c"/>
<rect x="164.66" y="349.82" width="11.27" height="1.41" fill="#539cc9"/>
<rect x="164.66" y="352.63" width="11.27" height="1.06" fill="#fdca6a"/>
<rect x="164.66" y="354.22" width="11.27" height="1.41" fill="#c2c6d6"/>
<rect x="164.66" y="356.71" width="11.27" height="1.0" fill="#fdca6a"/>
<rect x="164.66" y="357.92" width="11.27" height="1.06" fill="#65a4cd"/>
<rect x="164.66" y="359.18" width="11.27" height="1.0" fill="#fdd488"/>
<rect x="164.66" y="367.25" width="11.27" height="1.06" fill="#d96d1c"/>
<rect x="164.66" y="374.64" width="11.27" height="1.06" fill="#fbbb4e"/>
<rect x="164.66" y="375.87" width="11.27" height="1.41" fill="#fdd488"/>
<rect x="164.66" y="378.16" width="11.27" height="1.06" fill="#eea13d"/>
<rect x="164.66" y="396.66" width="11.27" height="1.0" fill="#d46113"/>
<rect x="164.66" y="407.73" width="11.27" height="1.76" fill="#e99435"/>
<rect x="164.66" y="420.23" width="11.27" height="1.41" fill="#e4882e"/>
<rect x="197.56" y="97.08" width="11.27" height="1.76" fill="#f4ae45"/>
<rect x="197.56" y="119.12" width="11.27" height="1.0" fill="#d0570b"/>
<rect x="197.56" y="194.42" width="11.27" height="2.46" fill="#d96d1c"/>
<rect x="197.56" y="225.75" width="11.27" height="1.41" fill="#e99435"/>
<rect x="197.56" y="227.19" width="11.27" height="1.0" fill="#fbbb4e"/>
<rect x="197.56" y="228.22" width="11.27" height="1.06" fill="#a9bfdc"/>
<rect x="197.56" y="249.35" width="11.27" height="3.52" fill="#f4ae45"/>
<rect x="197.56" y="266.57" width="11.27" height="1.76" fill="#eea13d"/>
<rect x="197.56" y="284.91" width="11.27" height="1.0" fill="#fbbb4e"/>
<rect x="197.56" y="286.11" width="11.27" height="1.06" fill="#a9bfdc"/>
<rect x="197.56" y="289.28" width="11.27" height="1.06" fill="#de7924"/>
<rect x="197.56" y="291.07" width="11.27" height="1.0" fill="#e99435"/>
<rect x="197.56" y="293.33" width="11.27" height="1.76" fill="#f4ae45"/>
<rect x="197.56" y="298.79" width="11.27" height="2.11" fill="#fdca6a"/>
<rect x="197.56" y="301.61" width="11.27" height="1.06" fill="#f4ae45"/>
<rect x="197.56" y="303.0" width="11.27" height="1.76" fill="#fdca6a"/>
<rect x="197.56" y="305.64" width="11.27" height="1.06" fill="#fcc35c"/>
<rect x="197.56" y="308.11" width="11.27" height="1.06" fill="#f4ae45"/>
<rect x="197.56" y="310.39" width="11.27" height="1.06" fill="#fcc35c"/>
<rect x="197.56" y="320.96" width="11.27" height="1.06" fill="#fdd488"/>
<rect x="197.56" y="322.37" width="11.27" height="1.06" fill="#539cc9"/>
<rect x="197.56" y="323.98" width="11.27" height="1.0" fill="#fcc35c"/>
<rect x="197.56" y="339.44" width="11.27" height="1.06" fill="#d96d1c"/>
<rect x="197.56" y="349.64" width="11.27" height="1.76" fill="#fdca6a"/>
<rect x="197.56" y="353.51" width="11.27" height="1.76" fill="#e9d7ac"/>
<rect x="197.56" y="357.04" width="11.27" height="1.06" fill="#e99435"/>
<rect x="197.56" y="360.56" width="11.27" height="1.76" fill="#fcc35c"/>
<rect x="197.56" y="363.2" width="11.27" height="1.06" fill="#e4882e"/>
<rect x="197.56" y="378.69" width="11.27" height="1.76" fill="#eea13d"/>
<rect x="197.56" y="395.75" width="11.27" height="1.06" fill="#e4882e"/>
<rect x="197.56" y="399.27" width="11.27" height="2.82" fill="#fdd488"/>
<rect x="197.56" y="402.44" width="11.27" height="1.06" fill="#fcc35c"/>
<rect x="197.56" y="429.73" width="11.27" height="1.76" fill="#e99435"/>
<rect x="131.75" y="116.1" width="11.27" height="1.41" fill="#d46113"/>
<rect x="131.75" y="138.81" width="11.27" height="2.11" fill="#f4ae45"/>
<rect x="131.75" y="221.35" width="11.27" height="1.41" fill="#de7924"/>
<rect x="131.75" y="226.46" width="11.27" height="1.06" fill="#f4ae45"/>
<rect x="131.75" y="227.69" width="11.27" height="1.06" fill="#fcc35c"/>
<rect x="131.75" y="232.09" width="11.27" height="1.06" fill="#fcc35c"/>
<rect x="131.75" y="234.03" width="11.27" height="1.41" fill="#fdd07c"/>
<rect x="131.75" y="237.55" width="11.27" height="1.41" fill="#e99435"/>
<rect x="131.75" y="241.25" width="11.27" height="2.11" fill="#e4882e"/>
<rect x="131.75" y="244.59" width="11.27" height="2.46" fill="#fdca6a"/>
<rect x="131.75" y="254.63" width="11.27" height="1.76" fill="#f4ae45"/>
<rect x="131.75" y="256.74" width="11.27" height="1.76" fill="#fcc35c"/>
<rect x="131.75" y="259.35" width="11.27" height="1.06" fill="#d96d1c"/>
<rect x="131.75" y="265.69" width="11.27" height="1.41" fill="#e99435"/>
<rect x="131.75" y="269.04" width="11.27" height="1.06" fill="#de7924"/>
<rect x="131.75" y="273.44" width="11.27" height="2.11" fill="#fdd07c"/>
<rect x="131.75" y="289.28" width="11.27" height="1.06" fill="#e4882e"/>
<rect x="131.75" y="291.95" width="11.27" height="1.0" fill="#e4882e"/>
<rect x="131.75" y="296.32" width="11.27" height="1.06" fill="#e99435"/>
<rect x="131.75" y="299.32" width="11.27" height="1.06" fill="#eea13d"/>
<rect x="131.75" y="303.0" width="11.27" height="1.76" fill="#fcc35c"/>
<rect x="131.75" y="309.89" width="11.27" height="1.0" fill="#d96d1c"/>
<rect x="131.75" y="314.82" width="11.27" height="1.0" fill="#d46113"/>
<rect x="131.75" y="323.63" width="11.27" height="1.0" fill="#d96d1c"/>
<rect x="131.75" y="326.27" width="11.27" height="1.0" fill="#d46113"/>
<rect x="131.75" y="335.57" width="11.27" height="1.76" fill="#fcc35c"/>
<rect x="131.75" y="344.37" width="11.27" height="1.76" fill="#fbbb4e"/>
<rect x="131.75" y="347.35" width="11.27" height="1.06" fill="#fdca6a"/>
<rect x="131.75" y="350.35" width="11.27" height="1.06" fill="#e4882e"/>
<rect x="131.75" y="352.66" width="11.27" height="1.0" fill="#de7924"/>
<rect x="131.75" y="355.63" width="11.27" height="2.11" fill="#fdd488"/>
<rect x="131.75" y="358.44" width="11.27" height="1.06" fill="#fdca6a"/>
<rect x="131.75" y="359.68" width="11.27" height="2.11" fill="#95b5d8"/>
<rect x="131.75" y="362.14" width="11.27" height="1.41" fill="#fdd07c"/>
<rect x="131.75" y="395.75" width="11.27" height="1.06" fill="#2368af"/>
<rect x="131.75" y="396.84" width="11.27" height="1.0" fill="#eea13d"/>
<rect x="252.41" y="85.11" width="11.27" height="2.11" fill="#fcc35c"/>
<rect x="252.41" y="207.97" width="11.27" height="1.76" fill="#fdd07c"/>
<rect x="252.41" y="222.94" width="11.27" height="1.76" fill="#d96d1c"/>
<rect x="252.41" y="233.15" width="11.27" height="2.46" fill="#fdca6a"/>
<rect x="252.41" y="256.21" width="11.27" height="2.11" fill="#fdca6a"/>
<rect x="252.41" y="258.82" width="11.27" height="1.06" fill="#fbbb4e"/>
<rect x="252.41" y="262.17" width="11.27" height="1.41" fill="#fcc35c"/>
<rect x="252.41" y="278.75" width="11.27" height="1.0" fill="#d46113"/>
<rect x="252.41" y="283.65" width="11.27" height="1.76" fill="#fdca6a"/>
<rect x="252.41" y="287.17" width="11.27" height="1.76" fill="#f6d694"/>
<rect x="252.41" y="289.28" width="11.27" height="1.06" fill="#fdca6a"/>
<rect x="252.41" y="300.4" width="11.27" height="1.0" fill="#d46113"/>
<rect x="252.41" y="306.87" width="11.27" height="1.06" fill="#fdd07c"/>
<rect x="252.41" y="308.11" width="11.27" height="1.06" fill="#a9bfdc"/>
<rect x="252.41" y="309.54" width="11.27" height="1.0" fill="#fbbb4e"/>
<rect x="252.41" y="310.95" width="11.27" height="1.0" fill="#e4882e"/>
<rect x="252.41" y="315.85" width="11.27" height="1.76" fill="#fdca6a"/>
<rect x="252.41" y="368.3" width="11.27" height="1.41" fill="#f4ae45"/>
<rect x="252.41" y="371.65" width="11.27" height="1.76" fill="#e4882e"/>
<rect x="252.41" y="383.44" width="11.27" height="1.76" fill="#fdca6a"/>
<rect x="252.41" y="385.56" width="11.27" height="1.06" fill="#fbbb4e"/>
<rect x="252.41" y="406.49" width="11.27" height="1.41" fill="#e99435"/>
<rect x="241.44" y="90.39" width="11.27" height="1.06" fill="#e99435"/>
<rect x="241.44" y="203.07" width="11.27" height="1.0" fill="#d0570b"/>
<rect x="241.44" y="221.53" width="11.27" height="2.82" fill="#e4882e"/>
<rect x="241.44" y="251.81" width="11.27" height="1.06" fill="#fcc35c"/>
<rect x="241.44" y="254.45" width="11.27" height="1.06" fill="#e4882e"/>
<rect x="241.44" y="256.77" width="11.27" height="1.0" fill="#e99435"/>
<rect x="241.44" y="258.85" width="11.27" height="1.0" fill="#f0d7a1"/>
<rect x="241.44" y="268.33" width="11.27" height="1.76" fill="#eea13d"/>
<rect x="241.44" y="281.01" width="11.27" height="1.76" fill="#eea13d"/>
<rect x="241.44" y="283.47" width="11.27" height="1.06" fill="#e4882e"/>
<rect x="241.44" y="295.97" width="11.27" height="1.76" fill="#fcc35c"/>
<rect x="241.44" y="308.46" width="11.27" height="1.41" fill="#e4882e"/>
<rect x="241.44" y="320.61" width="11.27" height="1.76" fill="#e4882e"/>
<rect x="241.44" y="338.56" width="11.27" height="1.06" fill="#f4ae45"/>
<rect x="241.44" y="339.8" width="11.27" height="1.06" fill="#fcc35c"/>
<rect x="241.44" y="348.76" width="11.27" height="1.76" fill="#f6d694"/>
<rect x="241.44" y="351.23" width="11.27" height="1.41" fill="#f0d7a1"/>
<rect x="241.44" y="353.16" width="11.27" height="1.06" fill="#a9bfdc"/>
<rect x="241.44" y="354.57" width="11.27" height="1.76" fill="#fdd488"/>
<rect x="241.44" y="358.44" width="11.27" height="1.76" fill="#fdca6a"/>
<rect x="241.44" y="363.9" width="11.27" height="1.41" fill="#e99435"/>
<rect x="241.44" y="369.36" width="11.27" height="1.06" fill="#fbbb4e"/>
<rect x="241.44" y="371.15" width="11.27" height="1.0" fill="#e99435"/>
<rect x="241.44" y="372.53" width="11.27" height="1.76" fill="#c2c6d6"/>
<rect x="241.44" y="374.64" width="11.27" height="1.06" fill="#fdd488"/>
<rect x="241.44" y="376.43" width="11.27" height="1.0" fill="#fdca6a"/>
<rect x="241.44" y="383.27" width="11.27" height="1.41" fill="#e99435"/>
<rect x="241.44" y="386.96" width="11.27" height="1.76" fill="#f4ae45"/>
<rect x="241.44" y="395.23" width="11.27" height="1.41" fill="#f4ae45"/>
<rect x="241.44" y="402.8" width="11.27" height="1.06" fill="#de7924"/>
<rect x="241.44" y="410.54" width="11.27" height="1.41" fill="#e4882e"/>
<rect x="241.44" y="413.01" width="11.27" height="1.06" fill="#f4ae45"/>
<rect x="241.44" y="422.51" width="11.27" height="1.06" fill="#d96d1c"/>
<rect x="285.31" y="90.75" width="11.27" height="1.41" fill="#e4882e"/>
<rect x="285.31" y="190.37" width="11.27" height="1.76" fill="#d96d1c"/>
<rect x="285.31" y="212.9" width="11.27" height="1.41" fill="#de7924"/>
<rect x="285.31" y="223.11" width="11.27" height="1.41" fill="#e4882e"/>
<rect x="285.31" y="232.12" width="11.27" height="1.0" fill="#d46113"/>
<rect x="285.31" y="240.89" width="11.27" height="1.76" fill="#fdca6a"/>
<rect x="285.31" y="245.3" width="11.27" height="1.06" fill="#e1d4b5"/>
<rect x="285.31" y="246.2" width="11.27" height="1.0" fill="#eea13d"/>
<rect x="285.31" y="251.63" width="11.27" height="2.46" fill="#f6d694"/>
<rect x="285.31" y="255.01" width="11.27" height="1.0" fill="#e99435"/>
<rect x="285.31" y="258.82" width="11.27" height="1.06" fill="#fdca6a"/>
<rect x="285.31" y="263.4" width="11.27" height="1.76" fill="#fcc35c"/>
<rect x="285.31" y="266.04" width="11.27" height="1.76" fill="#fdd07c"/>
<rect x="285.31" y="268.15" width="11.27" height="1.06" fill="#fdca6a"/>
<rect x="285.31" y="282.94" width="11.27" height="1.41" fill="#fbbb4e"/>
<rect x="285.31" y="289.11" width="11.27" height="1.41" fill="#de7924"/>
<rect x="285.31" y="292.8" width="11.27" height="1.06" fill="#fbbb4e"/>
<rect x="285.31" y="294.92" width="11.27" height="1.41" fill="#539cc9"/>
<rect x="285.31" y="296.35" width="11.27" height="1.0" fill="#fdca6a"/>
<rect x="285.31" y="298.26" width="11.27" height="2.46" fill="#e99435"/>
<rect x="285.31" y="305.11" width="11.27" height="1.06" fill="#a9bfdc"/>
<rect x="285.31" y="306.87" width="11.27" height="1.06" fill="#fdca6a"/>
<rect x="285.31" y="308.46" width="11.27" height="1.41" fill="#f6d694"/>
<rect x="285.31" y="310.39" width="11.27" height="1.06" fill="#fdd07c"/>
<rect x="285.31" y="312.15" width="11.27" height="1.06" fill="#f4ae45"/>
<rect x="285.31" y="320.96" width="11.27" height="1.06" fill="#fbbb4e"/>
<rect x="285.31" y="322.54" width="11.27" height="1.41" fill="#e1d4b5"/>
<rect x="285.31" y="324.48" width="11.27" height="1.06" fill="#c2c6d6"/>
<rect x="285.31" y="326.06" width="11.27" height="1.41" fill="#95b5d8"/>
<rect x="285.31" y="328.03" width="11.27" height="1.0" fill="#fdca6a"/>
<rect x="285.31" y="334.16" width="11.27" height="1.06" fill="#2368af"/>
<rect x="285.31" y="335.57" width="11.27" height="1.06" fill="#000080"/>
<rect x="285.31" y="336.98" width="11.27" height="1.06" fill="#95b5d8"/>
<rect x="285.31" y="338.56" width="11.27" height="1.06" fill="#fdca6a"/>
<rect x="285.31" y="340.32" width="11.27" height="1.06" fill="#fdd488"/>
<rect x="285.31" y="342.11" width="11.27" height="1.0" fill="#f4ae45"/>
<rect x="285.31" y="344.73" width="11.27" height="1.06" fill="#e99435"/>
<rect x="285.31" y="351.75" width="11.27" height="1.76" fill="#fdca6a"/>
<rect x="285.31" y="359.85" width="11.27" height="1.76" fill="#b8c4e0"/>
<rect x="285.31" y="361.46" width="11.27" height="1.0" fill="#f4ae45"/>
<rect x="285.31" y="364.25" width="11.27" height="2.46" fill="#fdd488"/>
<rect x="285.31" y="376.75" width="11.27" height="1.06" fill="#fbbb4e"/>
<rect x="285.31" y="378.16" width="11.27" height="1.06" fill="#95b5d8"/>
<rect x="285.31" y="379.6" width="11.27" height="1.0" fill="#fcc35c"/>
<rect x="285.31" y="381.86" width="11.27" height="1.41" fill="#fbbb4e"/>
<rect x="285.31" y="383.97" width="11.27" height="1.76" fill="#fdca6a"/>
<rect x="285.31" y="386.96" width="11.27" height="1.06" fill="#e99435"/>
<rect x="285.31" y="404.2" width="11.27" height="2.46" fill="#fdd488"/>
<rect x="285.31" y="406.67" width="11.27" height="1.06" fill="#fcc35c"/>
<rect x="285.31" y="411.63" width="11.27" height="1.0" fill="#d46113"/>
<rect x="285.31" y="417.79" width="11.27" height="1.0" fill="#fbbb4e"/>
<rect x="285.31" y="418.64" width="11.27" height="1.06" fill="#95b5d8"/>
<rect x="285.31" y="420.08" width="11.27" height="1.0" fill="#fdca6a"/>
<rect x="274.34" y="89.34" width="11.27" height="1.41" fill="#d0570b"/>
<rect x="274.34" y="222.58" width="11.27" height="1.76" fill="#d96d1c"/>
<rect x="274.34" y="231.74" width="11.27" height="1.06" fill="#e4882e"/>
<rect x="274.34" y="236.32" width="11.27" height="1.41" fill="#f4ae45"/>
<rect x="274.34" y="246.2" width="11.27" height="1.0" fill="#d46113"/>
<rect x="274.34" y="248.85" width="11.27" height="1.0" fill="#eea13d"/>
<rect x="274.34" y="250.05" width="11.27" height="1.41" fill="#b8c4e0"/>
<rect x="274.34" y="254.8" width="11.27" height="1.41" fill="#de7924"/>
<rect x="274.34" y="266.42" width="11.27" height="1.0" fill="#e4882e"/>
<rect x="274.34" y="275.2" width="11.27" height="1.06" fill="#95b5d8"/>
<rect x="274.34" y="276.61" width="11.27" height="1.76" fill="#f6d694"/>
<rect x="274.34" y="282.24" width="11.27" height="1.06" fill="#fdca6a"/>
<rect x="274.34" y="283.47" width="11.27" height="1.41" fill="#95b5d8"/>
<rect x="274.34" y="284.91" width="11.27" height="1.0" fill="#fbbb4e"/>
<rect x="274.34" y="297.73" width="11.27" height="1.76" fill="#fcc35c"/>
<rect x="274.34" y="315.5" width="11.27" height="1.41" fill="#e4882e"/>
<rect x="274.34" y="322.19" width="11.27" height="1.06" fill="#fbbb4e"/>
<rect x="274.34" y="323.42" width="11.27" height="1.41" fill="#fdd07c"/>
<rect x="274.34" y="326.59" width="11.27" height="2.11" fill="#fdca6a"/>
<rect x="274.34" y="328.88" width="11.27" height="1.06" fill="#fdd488"/>
<rect x="274.34" y="331.17" width="11.27" height="1.76" fill="#f4ae45"/>
<rect x="274.34" y="335.57" width="11.27" height="1.06" fill="#e4882e"/>
<rect x="274.34" y="338.56" width="11.27" height="1.06" fill="#fbbb4e"/>
<rect x="274.34" y="339.62" width="11.27" height="1.41" fill="#cdcbcb"/>
<rect x="274.34" y="349.64" width="11.27" height="1.76" fill="#fcc35c"/>
<rect x="274.34" y="351.58" width="11.27" height="1.41" fill="#fdd488"/>
<rect x="274.34" y="354.39" width="11.27" height="1.06" fill="#000080"/>
<rect x="274.34" y="356.18" width="11.27" height="1.0" fill="#fbbb4e"/>
<rect x="274.34" y="361.44" width="11.27" height="1.06" fill="#f4ae45"/>
<rect x="274.34" y="363.73" width="11.27" height="1.06" fill="#fbbb4e"/>
<rect x="274.34" y="365.31" width="11.27" height="1.41" fill="#e9d7ac"/>
<rect x="274.34" y="371.12" width="11.27" height="1.06" fill="#e4882e"/>
<rect x="274.34" y="378.69" width="11.27" height="1.76" fill="#e99435"/>
<rect x="274.34" y="388.37" width="11.27" height="1.76" fill="#fbbb4e"/>
<rect x="274.34" y="395.23" width="11.27" height="1.41" fill="#f0d7a1"/>
<rect x="274.34" y="400.68" width="11.27" height="2.46" fill="#fdd488"/>
<rect x="274.34" y="407.02" width="11.27" height="1.41" fill="#eea13d"/>
<rect x="274.34" y="418.11" width="11.27" height="1.41" fill="#e99435"/>
<rect x="274.34" y="432.73" width="11.27" height="1.06" fill="#e99435"/>
<rect x="263.38" y="96.94" width="11.27" height="1.0" fill="#d0570b"/>
<rect x="263.38" y="208.0" width="11.27" height="1.0" fill="#d0570b"/>
<rect x="263.38" y="215.01" width="11.27" height="1.76" fill="#fbbb4e"/>
<rect x="263.38" y="222.06" width="11.27" height="1.76" fill="#e4882e"/>
<rect x="263.38" y="232.97" width="11.27" height="1.06" fill="#e1d4b5"/>
<rect x="263.38" y="234.73" width="11.27" height="1.06" fill="#fcc35c"/>
<rect x="263.38" y="251.11" width="11.27" height="1.76" fill="#f0d7a1"/>
<rect x="263.38" y="276.61" width="11.27" height="1.76" fill="#d96d1c"/>
<rect x="263.38" y="306.87" width="11.27" height="1.06" fill="#fdca6a"/>
<rect x="263.38" y="308.46" width="11.27" height="2.46" fill="#539cc9"/>
<rect x="263.38" y="351.4" width="11.27" height="1.06" fill="#e4882e"/>
<rect x="263.38" y="356.15" width="11.27" height="1.06" fill="#eea13d"/>
<rect x="263.38" y="359.32" width="11.27" height="1.76" fill="#fdca6a"/>
<rect x="263.38" y="361.46" width="11.27" height="1.0" fill="#f4ae45"/>
<rect x="263.38" y="364.08" width="11.27" height="1.06" fill="#539cc9"/>
<rect x="263.38" y="365.51" width="11.27" height="1.0" fill="#fcc35c"/>
<rect x="263.38" y="371.12" width="11.27" height="1.76" fill="#fcc35c"/>
<rect x="263.38" y="373.41" width="11.27" height="1.76" fill="#fdd488"/>
<rect x="263.38" y="382.21" width="11.27" height="1.76" fill="#e99435"/>
<rect x="263.38" y="392.23" width="11.27" height="1.76" fill="#fcc35c"/>
<rect x="263.38" y="403.18" width="11.27" height="1.0" fill="#fbbb4e"/>
<rect x="263.38" y="404.23" width="11.27" height="1.0" fill="#e1d4b5"/>
<rect x="263.38" y="408.78" width="11.27" height="1.41" fill="#fbbb4e"/>
<rect x="230.47" y="105.36" width="11.27" height="1.06" fill="#eea13d"/>
<rect x="230.47" y="147.79" width="11.27" height="2.46" fill="#fdd07c"/>
<rect x="230.47" y="174.87" width="11.27" height="1.76" fill="#000080"/>
<rect x="230.47" y="195.3" width="11.27" height="1.41" fill="#e99435"/>
<rect x="230.47" y="204.1" width="11.27" height="1.41" fill="#e4882e"/>
<rect x="230.47" y="232.97" width="11.27" height="1.76" fill="#f4ae45"/>
<rect x="230.47" y="246.0" width="11.27" height="3.17" fill="#fdd07c"/>
<rect x="230.47" y="257.44" width="11.27" height="1.41" fill="#fcc35c"/>
<rect x="230.47" y="261.99" width="11.27" height="1.76" fill="#e4882e"/>
<rect x="230.47" y="264.63" width="11.27" height="1.06" fill="#e99435"/>
<rect x="230.47" y="271.32" width="11.27" height="1.76" fill="#539cc9"/>
<rect x="230.47" y="273.44" width="11.27" height="1.06" fill="#f4ae45"/>
<rect x="230.47" y="275.02" width="11.27" height="1.41" fill="#fdca6a"/>
<rect x="230.47" y="281.39" width="11.27" height="1.0" fill="#d96d1c"/>
<rect x="230.47" y="286.64" width="11.27" height="1.06" fill="#fcc35c"/>
<rect x="230.47" y="288.78" width="11.27" height="1.0" fill="#e4882e"/>
<rect x="230.47" y="301.08" width="11.27" height="1.06" fill="#fcc35c"/>
<rect x="230.47" y="302.82" width="11.27" height="1.06" fill="#fdca6a"/>
<rect x="230.47" y="322.01" width="11.27" height="1.41" fill="#fdca6a"/>
<rect x="230.47" y="323.95" width="11.27" height="1.06" fill="#e9d7ac"/>
<rect x="230.47" y="325.36" width="11.27" height="1.06" fill="#65a4cd"/>
<rect x="230.47" y="359.32" width="11.27" height="1.76" fill="#d96d1c"/>
<rect x="230.47" y="385.2" width="11.27" height="1.76" fill="#e4882e"/>
<rect x="230.47" y="393.11" width="11.27" height="1.06" fill="#a9bfdc"/>
<rect x="230.47" y="394.02" width="11.27" height="1.0" fill="#fbbb4e"/>
<rect x="230.47" y="398.22" width="11.27" height="1.41" fill="#e99435"/>
<rect x="230.47" y="400.68" width="11.27" height="1.06" fill="#de7924"/>
<rect x="230.47" y="423.39" width="11.27" height="1.41" fill="#e4882e"/>
<rect x="230.47" y="427.27" width="11.27" height="2.11" fill="#e9d7ac"/>
<rect x="230.47" y="429.58" width="11.27" height="1.0" fill="#fbbb4e"/>
<rect x="307.25" y="95.15" width="11.27" height="1.06" fill="#de7924"/>
<rect x="307.25" y="203.57" width="11.27" height="1.76" fill="#d96d1c"/>
<rect x="307.25" y="207.97" width="11.27" height="1.76" fill="#fdca6a"/>
<rect x="307.25" y="210.96" width="11.27" height="1.06" fill="#fbbb4e"/>
<rect x="307.25" y="212.2" width="11.27" height="1.41" fill="#fdd07c"/>
<rect x="307.25" y="214.31" width="11.27" height="1.41" fill="#e9d7ac"/>
<rect x="307.25" y="242.83" width="11.27" height="1.41" fill="#e4882e"/>
<rect x="307.25" y="249.87" width="11.27" height="1.41" fill="#d46113"/>
<rect x="307.25" y="253.25" width="11.27" height="1.0" fill="#d46113"/>
<rect x="307.25" y="256.92" width="11.27" height="1.41" fill="#eea13d"/>
<rect x="307.25" y="260.94" width="11.27" height="1.41" fill="#e99435"/>
<rect x="307.25" y="265.69" width="11.27" height="1.41" fill="#fdca6a"/>
<rect x="307.25" y="268.86" width="11.27" height="1.41" fill="#fbbb4e"/>
<rect x="307.25" y="273.46" width="11.27" height="1.0" fill="#e4882e"/>
<rect x="307.25" y="276.08" width="11.27" height="1.06" fill="#e99435"/>
<rect x="307.25" y="278.72" width="11.27" height="1.06" fill="#eea13d"/>
<rect x="307.25" y="281.01" width="11.27" height="1.06" fill="#a9bfdc"/>
<rect x="307.25" y="282.24" width="11.27" height="1.06" fill="#65a4cd"/>
<rect x="307.25" y="284.0" width="11.27" height="1.06" fill="#fdca6a"/>
<rect x="307.25" y="285.76" width="11.27" height="1.06" fill="#b8c4e0"/>
<rect x="307.25" y="287.02" width="11.27" height="1.0" fill="#fbbb4e"/>
<rect x="307.25" y="290.19" width="11.27" height="1.0" fill="#de7924"/>
<rect x="307.25" y="296.32" width="11.27" height="1.06" fill="#fbbb4e"/>
<rect x="307.25" y="298.61" width="11.27" height="1.06" fill="#e99435"/>
<rect x="307.25" y="300.73" width="11.27" height="1.06" fill="#539cc9"/>
<rect x="307.25" y="303.18" width="11.27" height="1.41" fill="#fdca6a"/>
<rect x="307.25" y="305.99" width="11.27" height="1.76" fill="#fcc35c"/>
<rect x="307.25" y="310.39" width="11.27" height="1.06" fill="#fdd488"/>
<rect x="307.25" y="312.71" width="11.27" height="1.0" fill="#2368af"/>
<rect x="307.25" y="313.94" width="11.27" height="1.0" fill="#fbbb4e"/>
<rect x="307.25" y="325.18" width="11.27" height="1.41" fill="#fdca6a"/>
<rect x="307.25" y="328.91" width="11.27" height="1.0" fill="#fbbb4e"/>
<rect x="307.25" y="330.11" width="11.27" height="1.06" fill="#a9bfdc"/>
<rect x="307.25" y="331.55" width="11.27" height="1.0" fill="#fcc35c"/>
<rect x="307.25" y="336.8" width="11.27" height="1.06" fill="#e99435"/>
<rect x="307.25" y="339.09" width="11.27" height="1.76" fill="#fcc35c"/>
<rect x="307.25" y="347.35" width="11.27" height="1.06" fill="#e4882e"/>
<rect x="307.25" y="349.29" width="11.27" height="1.76" fill="#fdca6a"/>
<rect x="307.25" y="351.4" width="11.27" height="1.06" fill="#fcc35c"/>
<rect x="307.25" y="358.8" width="11.27" height="1.76" fill="#fdca6a"/>
<rect x="307.25" y="369.39" width="11.27" height="1.0" fill="#de7924"/>
<rect x="307.25" y="373.58" width="11.27" height="1.41" fill="#fdca6a"/>
<rect x="307.25" y="375.02" width="11.27" height="1.0" fill="#fbbb4e"/>
<rect x="307.25" y="378.16" width="11.27" height="1.06" fill="#e99435"/>
<rect x="307.25" y="381.33" width="11.27" height="1.06" fill="#95b5d8"/>
<rect x="307.25" y="383.09" width="11.27" height="1.06" fill="#fdca6a"/>
<rect x="307.25" y="429.47" width="11.27" height="1.41" fill="#fcc35c"/>
<rect x="318.22" y="93.42" width="11.27" height="1.0" fill="#cf5408"/>
<rect x="318.22" y="211.14" width="11.27" height="2.46" fill="#fdca6a"/>
<rect x="318.22" y="250.58" width="11.27" height="1.06" fill="#d46113"/>
<rect x="318.22" y="252.87" width="11.27" height="1.06" fill="#a9bfdc"/>
<rect x="318.22" y="254.13" width="11.27" height="1.0" fill="#fcc35c"/>
<rect x="318.22" y="263.75" width="11.27" height="1.76" fill="#fdca6a"/>
<rect x="318.22" y="266.42" width="11.27" height="1.0" fill="#e99435"/>
<rect x="318.22" y="272.58" width="11.27" height="1.0" fill="#fdca6a"/>
<rect x="318.22" y="273.44" width="11.27" height="1.41" fill="#1d55a7"/>
<rect x="318.22" y="281.18" width="11.27" height="1.41" fill="#e4882e"/>
<rect x="318.22" y="287.55" width="11.27" height="1.0" fill="#de7924"/>
<rect x="318.22" y="319.9" width="11.27" height="1.41" fill="#e4882e"/>
<rect x="318.22" y="324.48" width="11.27" height="1.06" fill="#d96d1c"/>
<rect x="318.22" y="329.58" width="11.27" height="1.41" fill="#fcc35c"/>
<rect x="318.22" y="332.23" width="11.27" height="1.41" fill="#e99435"/>
<rect x="318.22" y="336.63" width="11.27" height="1.41" fill="#e4882e"/>
<rect x="318.22" y="353.16" width="11.27" height="1.76" fill="#fcc35c"/>
<rect x="318.22" y="361.96" width="11.27" height="1.76" fill="#fbbb4e"/>
<rect x="318.22" y="366.72" width="11.27" height="1.06" fill="#f4ae45"/>
<rect x="318.22" y="369.01" width="11.27" height="1.06" fill="#fbbb4e"/>
<rect x="318.22" y="371.47" width="11.27" height="1.06" fill="#fcc35c"/>
<rect x="318.22" y="372.88" width="11.27" height="1.76" fill="#b8c4e0"/>
<rect x="318.22" y="375.52" width="11.27" height="1.06" fill="#fcc35c"/>
<rect x="318.22" y="377.63" width="11.27" height="1.41" fill="#fdca6a"/>
<rect x="340.16" y="91.45" width="11.27" height="2.46" fill="#fdd488"/>
<rect x="340.16" y="135.99" width="11.27" height="1.41" fill="#e4882e"/>
<rect x="340.16" y="195.3" width="11.27" height="1.41" fill="#d25b0e"/>
<rect x="340.16" y="237.2" width="11.27" height="2.11" fill="#fdca6a"/>
<rect x="340.16" y="242.65" width="11.27" height="1.76" fill="#fbbb4e"/>
<rect x="340.16" y="247.41" width="11.27" height="1.41" fill="#e99435"/>
<rect x="340.16" y="260.76" width="11.27" height="1.76" fill="#e4882e"/>
<rect x="340.16" y="267.27" width="11.27" height="1.06" fill="#e99435"/>
<rect x="340.16" y="269.92" width="11.27" height="1.06" fill="#e4882e"/>
<rect x="340.16" y="273.96" width="11.27" height="1.06" fill="#e4882e"/>
<rect x="340.16" y="284.0" width="11.27" height="1.06" fill="#f4ae45"/>
<rect x="340.16" y="293.68" width="11.27" height="1.06" fill="#e99435"/>
<rect x="340.16" y="338.21" width="11.27" height="1.76" fill="#d96d1c"/>
<rect x="340.16" y="348.41" width="11.27" height="1.41" fill="#fdd07c"/>
<rect x="340.16" y="350.35" width="11.27" height="1.06" fill="#e9d7ac"/>
<rect x="340.16" y="352.11" width="11.27" height="1.06" fill="#fdd488"/>
<rect x="340.16" y="353.87" width="11.27" height="1.06" fill="#fdca6a"/>
<rect x="340.16" y="359.68" width="11.27" height="1.06" fill="#fbbb4e"/>
<rect x="340.16" y="361.44" width="11.27" height="1.06" fill="#fdd488"/>
<rect x="340.16" y="362.87" width="11.27" height="1.0" fill="#a9bfdc"/>
<rect x="340.16" y="386.26" width="11.27" height="2.46" fill="#f6d694"/>
<rect x="340.16" y="394.96" width="11.27" height="1.76" fill="#fbbb4e"/>
<rect x="340.16" y="409.08" width="11.27" height="1.0" fill="#fbbb4e"/>
<rect x="340.16" y="410.63" width="11.27" height="1.06" fill="#000080"/>
<rect x="340.16" y="412.22" width="11.27" height="1.41" fill="#fdd488"/>
<rect x="340.16" y="414.33" width="11.27" height="1.06" fill="#e99435"/>
<rect x="340.16" y="417.15" width="11.27" height="1.41" fill="#e4882e"/>
<rect x="340.16" y="425.95" width="11.27" height="1.41" fill="#d96d1c"/>
<rect x="373.06" y="87.23" width="11.27" height="1.41" fill="#d96d1c"/>
<rect x="373.06" y="108.91" width="11.27" height="1.0" fill="#cf5408"/>
<rect x="373.06" y="232.27" width="11.27" height="1.41" fill="#de7924"/>
<rect x="373.06" y="256.74" width="11.27" height="1.76" fill="#fdca6a"/>
<rect x="373.06" y="272.03" width="11.27" height="1.41" fill="#fcc35c"/>
<rect x="373.06" y="273.96" width="11.27" height="1.06" fill="#fdca6a"/>
<rect x="373.06" y="275.73" width="11.27" height="1.76" fill="#f6d694"/>
<rect x="373.06" y="282.94" width="11.27" height="1.41" fill="#fcc35c"/>
<rect x="373.06" y="284.88" width="11.27" height="1.06" fill="#e99435"/>
<rect x="373.06" y="300.55" width="11.27" height="1.41" fill="#fcc35c"/>
<rect x="373.06" y="303.18" width="11.27" height="1.41" fill="#a9bfdc"/>
<rect x="373.06" y="304.61" width="11.27" height="1.0" fill="#fbbb4e"/>
<rect x="373.06" y="309.16" width="11.27" height="1.76" fill="#fdca6a"/>
<rect x="373.06" y="312.15" width="11.27" height="1.06" fill="#fcc35c"/>
<rect x="373.06" y="314.27" width="11.27" height="1.41" fill="#f4ae45"/>
<rect x="373.06" y="320.08" width="11.27" height="1.06" fill="#e99435"/>
<rect x="373.06" y="341.03" width="11.27" height="1.41" fill="#fcc35c"/>
<rect x="373.06" y="343.85" width="11.27" height="1.06" fill="#e99435"/>
<rect x="373.06" y="347.35" width="11.27" height="1.06" fill="#fbbb4e"/>
<rect x="373.06" y="348.94" width="11.27" height="1.41" fill="#fdd07c"/>
<rect x="373.06" y="351.58" width="11.27" height="1.41" fill="#fdca6a"/>
<rect x="373.06" y="353.87" width="11.27" height="1.06" fill="#f4ae45"/>
<rect x="373.06" y="356.86" width="11.27" height="1.41" fill="#e99435"/>
<rect x="373.06" y="359.18" width="11.27" height="1.0" fill="#e99435"/>
<rect x="373.06" y="361.79" width="11.27" height="1.41" fill="#fcc35c"/>
<rect x="373.06" y="363.73" width="11.27" height="1.06" fill="#eea13d"/>
<rect x="373.06" y="378.87" width="11.27" height="1.41" fill="#fdca6a"/>
<rect x="373.06" y="380.83" width="11.27" height="1.0" fill="#f4ae45"/>
<rect x="373.06" y="382.39" width="11.27" height="1.41" fill="#f6d694"/>
<rect x="373.06" y="384.88" width="11.27" height="1.0" fill="#e4882e"/>
<rect x="373.06" y="387.42" width="11.27" height="1.0" fill="#d96d1c"/>
<rect x="373.06" y="392.85" width="11.27" height="1.76" fill="#e99435"/>
<rect x="373.06" y="402.36" width="11.27" height="1.06" fill="#d96d1c"/>
<rect x="373.06" y="418.2" width="11.27" height="1.06" fill="#e4882e"/>
<rect x="329.19" y="100.99" width="11.27" height="1.0" fill="#d0570b"/>
<rect x="329.19" y="151.51" width="11.27" height="1.0" fill="#d0570b"/>
<rect x="329.19" y="233.15" width="11.27" height="1.76" fill="#d96d1c"/>
<rect x="329.19" y="269.39" width="11.27" height="2.11" fill="#fdca6a"/>
<rect x="329.19" y="274.14" width="11.27" height="1.41" fill="#fdca6a"/>
<rect x="329.19" y="278.54" width="11.27" height="1.41" fill="#fcc35c"/>
<rect x="329.19" y="280.48" width="11.27" height="1.06" fill="#e99435"/>
<rect x="329.19" y="284.0" width="11.27" height="1.06" fill="#e4882e"/>
<rect x="329.19" y="296.15" width="11.27" height="1.41" fill="#e99435"/>
<rect x="329.19" y="300.73" width="11.27" height="1.06" fill="#e4882e"/>
<rect x="329.19" y="304.06" width="11.27" height="1.41" fill="#fcc35c"/>
<rect x="329.19" y="312.68" width="11.27" height="1.06" fill="#e4882e"/>
<rect x="329.19" y="316.94" width="11.27" height="1.0" fill="#e1d4b5"/>
<rect x="329.19" y="317.96" width="11.27" height="1.76" fill="#000080"/>
<rect x="329.19" y="319.9" width="11.27" height="1.41" fill="#fdca6a"/>
<rect x="329.19" y="321.84" width="11.27" height="1.06" fill="#fcc35c"/>
<rect x="329.19" y="323.63" width="11.27" height="1.0" fill="#eea13d"/>
<rect x="329.19" y="339.97" width="11.27" height="1.76" fill="#de7924"/>
<rect x="329.19" y="344.73" width="11.27" height="1.06" fill="#e4882e"/>
<rect x="329.19" y="348.58" width="11.27" height="2.11" fill="#de7924"/>
<rect x="329.19" y="358.97" width="11.27" height="1.41" fill="#e99435"/>
<rect x="329.19" y="361.79" width="11.27" height="1.41" fill="#eea13d"/>
<rect x="329.19" y="363.9" width="11.27" height="1.41" fill="#fdca6a"/>
<rect x="329.19" y="386.34" width="11.27" height="2.11" fill="#fdd488"/>
<rect x="329.19" y="391.8" width="11.27" height="1.06" fill="#d96d1c"/>
<rect x="329.19" y="396.2" width="11.27" height="1.06" fill="#d46113"/>
<rect x="351.12" y="101.13" width="11.27" height="1.41" fill="#f4ae45"/>
<rect x="351.12" y="109.23" width="11.27" height="1.41" fill="#de7924"/>
<rect x="351.12" y="120.5" width="11.27" height="2.46" fill="#de7924"/>
<rect x="351.12" y="127.39" width="11.27" height="1.0" fill="#cf5408"/>
<rect x="351.12" y="192.51" width="11.27" height="1.0" fill="#cf5408"/>
<rect x="351.12" y="223.82" width="11.27" height="1.76" fill="#d96d1c"/>
<rect x="351.12" y="226.99" width="11.27" height="1.41" fill="#d46113"/>
<rect x="351.12" y="240.89" width="11.27" height="1.76" fill="#d46113"/>
<rect x="351.12" y="259.0" width="11.27" height="1.76" fill="#fdd488"/>
<rect x="351.12" y="261.99" width="11.27" height="1.06" fill="#f4ae45"/>
<rect x="351.12" y="266.22" width="11.27" height="1.41" fill="#fcc35c"/>
<rect x="351.12" y="269.04" width="11.27" height="1.06" fill="#eea13d"/>
<rect x="351.12" y="271.15" width="11.27" height="1.06" fill="#f4ae45"/>
<rect x="351.12" y="274.32" width="11.27" height="1.06" fill="#fdca6a"/>
<rect x="351.12" y="276.08" width="11.27" height="1.06" fill="#3f92c4"/>
<rect x="351.12" y="277.51" width="11.27" height="1.0" fill="#e1d4b5"/>
<rect x="351.12" y="278.72" width="11.27" height="1.06" fill="#95b5d8"/>
<rect x="351.12" y="280.51" width="11.27" height="1.0" fill="#fbbb4e"/>
<rect x="351.12" y="283.65" width="11.27" height="1.76" fill="#fcc35c"/>
<rect x="351.12" y="287.17" width="11.27" height="1.76" fill="#fdd488"/>
<rect x="351.12" y="289.81" width="11.27" height="1.76" fill="#fdd07c"/>
<rect x="351.12" y="292.63" width="11.27" height="1.41" fill="#fcc35c"/>
<rect x="351.12" y="310.57" width="11.27" height="1.76" fill="#f4ae45"/>
<rect x="351.12" y="327.65" width="11.27" height="1.76" fill="#e99435"/>
<rect x="351.12" y="330.46" width="11.27" height="1.41" fill="#539cc9"/>
<rect x="351.12" y="332.4" width="11.27" height="1.06" fill="#fdca6a"/>
<rect x="351.12" y="334.87" width="11.27" height="1.41" fill="#cdcbcb"/>
<rect x="351.12" y="336.8" width="11.27" height="1.06" fill="#fcc35c"/>
<rect x="351.12" y="338.39" width="11.27" height="1.41" fill="#f0d7a1"/>
<rect x="351.12" y="340.32" width="11.27" height="1.06" fill="#b8c4e0"/>
<rect x="351.12" y="342.08" width="11.27" height="1.06" fill="#fdca6a"/>
<rect x="351.12" y="343.87" width="11.27" height="1.0" fill="#fbbb4e"/>
<rect x="351.12" y="345.08" width="11.27" height="1.06" fill="#14409e"/>
<rect x="351.12" y="346.16" width="11.27" height="1.0" fill="#fbbb4e"/>
<rect x="351.12" y="347.38" width="11.27" height="1.0" fill="#fcc35c"/>
<rect x="351.12" y="348.94" width="11.27" height="1.41" fill="#65a4cd"/>
<rect x="351.12" y="364.78" width="11.27" height="1.41" fill="#65a4cd"/>
<rect x="351.12" y="371.12" width="11.27" height="1.06" fill="#fcc35c"/>
<rect x="351.12" y="372.53" width="11.27" height="1.06" fill="#b8c4e0"/>
<rect x="351.12" y="395.14" width="11.27" height="1.41" fill="#f4ae45"/>
<rect x="351.12" y="397.08" width="11.27" height="1.76" fill="#f4ae45"/>
<rect x="351.12" y="401.65" width="11.27" height="1.76" fill="#e99435"/>
<rect x="351.12" y="412.07" width="11.27" height="1.0" fill="#d46113"/>
<rect x="362.09" y="146.94" width="11.27" height="1.0" fill="#000080"/>
<rect x="362.09" y="225.23" width="11.27" height="1.41" fill="#e9d7ac"/>
<rect x="362.09" y="231.92" width="11.27" height="1.41" fill="#fbbb4e"/>
<rect x="362.09" y="244.94" width="11.27" height="1.76" fill="#fbbb4e"/>
<rect x="362.09" y="253.39" width="11.27" height="1.41" fill="#b8c4e0"/>
<rect x="362.09" y="255.01" width="11.27" height="1.0" fill="#f4ae45"/>
<rect x="362.09" y="259.35" width="11.27" height="1.06" fill="#fcc35c"/>
<rect x="362.09" y="261.64" width="11.27" height="1.06" fill="#e99435"/>
<rect x="362.09" y="264.99" width="11.27" height="2.11" fill="#f6d694"/>
<rect x="362.09" y="276.96" width="11.27" height="1.06" fill="#e4882e"/>
<rect x="362.09" y="285.41" width="11.27" height="1.76" fill="#c2c6d6"/>
<rect x="362.09" y="287.02" width="11.27" height="1.0" fill="#fbbb4e"/>
<rect x="362.09" y="295.09" width="11.27" height="1.76" fill="#f6d694"/>
<rect x="362.09" y="297.03" width="11.27" height="1.41" fill="#e1d4b5"/>
<rect x="362.09" y="300.37" width="11.27" height="1.06" fill="#fbbb4e"/>
<rect x="362.09" y="310.39" width="11.27" height="1.06" fill="#fdca6a"/>
<rect x="362.09" y="311.98" width="11.27" height="2.46" fill="#f6d694"/>
<rect x="362.09" y="314.8" width="11.27" height="1.06" fill="#fcc35c"/>
<rect x="362.09" y="320.25" width="11.27" height="1.41" fill="#e99435"/>
<rect x="362.09" y="322.54" width="11.27" height="1.41" fill="#fdca6a"/>
<rect x="362.09" y="324.65" width="11.27" height="1.76" fill="#cdcbcb"/>
<rect x="362.09" y="327.15" width="11.27" height="1.0" fill="#fcc35c"/>
<rect x="362.09" y="329.76" width="11.27" height="1.06" fill="#fcc35c"/>
<rect x="362.09" y="331.52" width="11.27" height="1.06" fill="#fdca6a"/>
<rect x="362.09" y="333.28" width="11.27" height="1.06" fill="#f4ae45"/>
<rect x="362.09" y="335.39" width="11.27" height="1.41" fill="#fdca6a"/>
<rect x="362.09" y="337.68" width="11.27" height="1.06" fill="#eea13d"/>
<rect x="362.09" y="340.32" width="11.27" height="1.06" fill="#f4ae45"/>
<rect x="362.09" y="342.61" width="11.27" height="1.06" fill="#fbbb4e"/>
<rect x="362.09" y="344.75" width="11.27" height="1.0" fill="#e4882e"/>
<rect x="362.09" y="347.38" width="11.27" height="1.0" fill="#d96d1c"/>
<rect x="362.09" y="355.45" width="11.27" height="2.46" fill="#fdd488"/>
<rect x="362.09" y="367.25" width="11.27" height="1.76" fill="#d96d1c"/>
<rect x="362.09" y="370.94" width="11.27" height="1.41" fill="#d96d1c"/>
<rect x="362.09" y="386.16" width="11.27" height="1.76" fill="#fdca6a"/>
<rect x="362.09" y="389.18" width="11.27" height="1.0" fill="#e4882e"/>
<rect x="362.09" y="397.61" width="11.27" height="1.76" fill="#fcc35c"/>
<rect x="362.09" y="411.87" width="11.27" height="1.41" fill="#e4882e"/>
<rect x="362.09" y="423.51" width="11.27" height="1.0" fill="#d46113"/>
<rect x="362.09" y="432.29" width="11.27" height="1.06" fill="#e4882e"/>
<rect x="120.78" y="208.85" width="11.27" height="1.76" fill="#fbbb4e"/>
<rect x="120.78" y="228.92" width="11.27" height="2.11" fill="#fbbb4e"/>
<rect x="120.78" y="232.12" width="11.27" height="1.0" fill="#de7924"/>
<rect x="120.78" y="239.66" width="11.27" height="3.52" fill="#e4882e"/>
<rect x="120.78" y="264.99" width="11.27" height="2.11" fill="#fdca6a"/>
<rect x="120.78" y="270.97" width="11.27" height="1.41" fill="#de7924"/>
<rect x="120.78" y="273.08" width="11.27" height="1.76" fill="#e99435"/>
<rect x="120.78" y="278.72" width="11.27" height="1.06" fill="#e4882e"/>
<rect x="120.78" y="281.54" width="11.27" height="2.46" fill="#f6d694"/>
<rect x="120.78" y="284.53" width="11.27" height="1.06" fill="#eea13d"/>
<rect x="120.78" y="288.93" width="11.27" height="1.76" fill="#fbbb4e"/>
<rect x="120.78" y="292.63" width="11.27" height="1.41" fill="#e99435"/>
<rect x="120.78" y="295.09" width="11.27" height="1.76" fill="#f4ae45"/>
<rect x="120.78" y="298.79" width="11.27" height="1.41" fill="#e4882e"/>
<rect x="120.78" y="307.4" width="11.27" height="1.76" fill="#fbbb4e"/>
<rect x="120.78" y="319.2" width="11.27" height="1.06" fill="#b1c1de"/>
<rect x="120.78" y="320.11" width="11.27" height="1.0" fill="#fcc35c"/>
<rect x="120.78" y="324.13" width="11.27" height="1.76" fill="#e99435"/>
<rect x="120.78" y="341.38" width="11.27" height="1.41" fill="#a9bfdc"/>
<rect x="120.78" y="343.32" width="11.27" height="1.06" fill="#fdca6a"/>
<rect x="120.78" y="345.25" width="11.27" height="1.06" fill="#fbbb4e"/>
<rect x="120.78" y="346.85" width="11.27" height="1.0" fill="#f0d7a1"/>
<rect x="120.78" y="353.51" width="11.27" height="1.76" fill="#fdca6a"/>
<rect x="120.78" y="355.8" width="11.27" height="1.76" fill="#fbbb4e"/>
<rect x="120.78" y="358.62" width="11.27" height="1.41" fill="#e99435"/>
<rect x="120.78" y="364.11" width="11.27" height="1.0" fill="#de7924"/>
<rect x="120.78" y="369.01" width="11.27" height="1.06" fill="#e99435"/>
<rect x="120.78" y="372.53" width="11.27" height="1.76" fill="#e1d4b5"/>
<rect x="120.78" y="374.64" width="11.27" height="1.06" fill="#fbbb4e"/>
<rect x="120.78" y="379.75" width="11.27" height="1.41" fill="#fcc35c"/>
<rect x="120.78" y="382.21" width="11.27" height="1.76" fill="#fbbb4e"/>
<rect x="120.78" y="388.55" width="11.27" height="1.41" fill="#f4ae45"/>
<rect x="120.78" y="392.23" width="11.27" height="1.76" fill="#e1d4b5"/>
<rect x="120.78" y="404.2" width="11.27" height="1.06" fill="#f4ae45"/>
<rect x="186.59" y="202.87" width="11.27" height="1.41" fill="#d96d1c"/>
<rect x="186.59" y="205.68" width="11.27" height="2.11" fill="#e99435"/>
<rect x="186.59" y="235.99" width="11.27" height="1.0" fill="#d25b0e"/>
<rect x="186.59" y="260.41" width="11.27" height="1.41" fill="#d46113"/>
<rect x="186.59" y="272.58" width="11.27" height="1.0" fill="#d46113"/>
<rect x="186.59" y="275.73" width="11.27" height="1.76" fill="#e99435"/>
<rect x="186.59" y="290.87" width="11.27" height="1.41" fill="#eea13d"/>
<rect x="186.59" y="292.45" width="11.27" height="1.76" fill="#fdca6a"/>
<rect x="186.59" y="295.27" width="11.27" height="1.41" fill="#fbbb4e"/>
<rect x="186.59" y="312.68" width="11.27" height="1.06" fill="#fcc35c"/>
<rect x="186.59" y="314.8" width="11.27" height="1.06" fill="#f4ae45"/>
<rect x="186.59" y="316.91" width="11.27" height="1.06" fill="#fdd07c"/>
<rect x="186.59" y="319.2" width="11.27" height="1.06" fill="#fbbb4e"/>
<rect x="186.59" y="320.61" width="11.27" height="1.06" fill="#fdca6a"/>
<rect x="186.59" y="322.01" width="11.27" height="1.41" fill="#f0d7a1"/>
<rect x="186.59" y="323.95" width="11.27" height="1.06" fill="#f4ae45"/>
<rect x="186.59" y="333.99" width="11.27" height="1.41" fill="#e4882e"/>
<rect x="186.59" y="336.45" width="11.27" height="1.76" fill="#e99435"/>
<rect x="186.59" y="339.97" width="11.27" height="1.76" fill="#65a4cd"/>
<rect x="186.59" y="342.11" width="11.27" height="1.0" fill="#f4ae45"/>
<rect x="186.59" y="347.53" width="11.27" height="1.76" fill="#eea13d"/>
<rect x="186.59" y="356.51" width="11.27" height="2.11" fill="#a9bfdc"/>
<rect x="186.59" y="358.82" width="11.27" height="1.0" fill="#fbbb4e"/>
<rect x="186.59" y="368.13" width="11.27" height="1.76" fill="#e9d7ac"/>
<rect x="186.59" y="393.64" width="11.27" height="1.06" fill="#fbbb4e"/>
<rect x="186.59" y="403.32" width="11.27" height="1.76" fill="#fbbb4e"/>
<rect x="186.59" y="405.26" width="11.27" height="1.41" fill="#fdca6a"/>
<rect x="186.59" y="414.94" width="11.27" height="1.41" fill="#e99435"/>
<rect x="186.59" y="418.11" width="11.27" height="1.41" fill="#e99435"/>
<rect x="186.59" y="422.34" width="11.27" height="1.41" fill="#f4ae45"/>
<rect x="186.59" y="424.1" width="11.27" height="1.41" fill="#fcc35c"/>
<rect x="186.59" y="428.35" width="11.27" height="1.0" fill="#d46113"/>
<rect x="208.53" y="175.93" width="11.27" height="1.41" fill="#d0570b"/>
<rect x="208.53" y="203.04" width="11.27" height="1.76" fill="#fdca6a"/>
<rect x="208.53" y="212.55" width="11.27" height="1.41" fill="#de7924"/>
<rect x="208.53" y="219.06" width="11.27" height="1.76" fill="#fdca6a"/>
<rect x="208.53" y="230.15" width="11.27" height="1.41" fill="#fbbb4e"/>
<rect x="208.53" y="236.14" width="11.27" height="3.52" fill="#fdca6a"/>
<rect x="208.53" y="246.7" width="11.27" height="1.76" fill="#cdcbcb"/>
<rect x="208.53" y="254.27" width="11.27" height="1.76" fill="#fcc35c"/>
<rect x="208.53" y="257.09" width="11.27" height="1.06" fill="#e4882e"/>
<rect x="208.53" y="258.65" width="11.27" height="1.41" fill="#fdca6a"/>
<rect x="208.53" y="266.42" width="11.27" height="1.0" fill="#d46113"/>
<rect x="208.53" y="275.37" width="11.27" height="1.76" fill="#f0d7a1"/>
<rect x="208.53" y="279.25" width="11.27" height="1.06" fill="#e4882e"/>
<rect x="208.53" y="285.76" width="11.27" height="1.06" fill="#fdca6a"/>
<rect x="208.53" y="287.52" width="11.27" height="1.06" fill="#eea13d"/>
<rect x="208.53" y="289.81" width="11.27" height="1.06" fill="#65a4cd"/>
<rect x="208.53" y="291.04" width="11.27" height="1.06" fill="#fdca6a"/>
<rect x="208.53" y="293.33" width="11.27" height="1.76" fill="#fbbb4e"/>
<rect x="208.53" y="297.03" width="11.27" height="1.41" fill="#e99435"/>
<rect x="208.53" y="304.41" width="11.27" height="1.41" fill="#eea13d"/>
<rect x="208.53" y="307.75" width="11.27" height="1.76" fill="#fdca6a"/>
<rect x="208.53" y="310.04" width="11.27" height="1.76" fill="#fdd07c"/>
<rect x="208.53" y="319.2" width="11.27" height="1.06" fill="#e99435"/>
<rect x="208.53" y="321.51" width="11.27" height="1.0" fill="#e4882e"/>
<rect x="208.53" y="323.42" width="11.27" height="1.41" fill="#fdca6a"/>
<rect x="208.53" y="324.83" width="11.27" height="1.41" fill="#65a4cd"/>
<rect x="208.53" y="326.42" width="11.27" height="1.76" fill="#cdcbcb"/>
<rect x="208.53" y="333.11" width="11.27" height="1.41" fill="#fbbb4e"/>
<rect x="208.53" y="337.68" width="11.27" height="1.06" fill="#e4882e"/>
<rect x="208.53" y="339.8" width="11.27" height="1.06" fill="#e99435"/>
<rect x="208.53" y="342.96" width="11.27" height="1.76" fill="#fbbb4e"/>
<rect x="208.53" y="348.41" width="11.27" height="1.41" fill="#e99435"/>
<rect x="208.53" y="351.78" width="11.27" height="1.0" fill="#e4882e"/>
<rect x="208.53" y="354.04" width="11.27" height="1.76" fill="#fcc35c"/>
<rect x="208.53" y="356.71" width="11.27" height="1.0" fill="#e4882e"/>
<rect x="208.53" y="361.44" width="11.27" height="1.06" fill="#e99435"/>
<rect x="208.53" y="363.55" width="11.27" height="2.11" fill="#e1d4b5"/>
<rect x="208.53" y="368.3" width="11.27" height="1.41" fill="#fbbb4e"/>
<rect x="208.53" y="383.97" width="11.27" height="1.76" fill="#fdca6a"/>
<rect x="208.53" y="387.32" width="11.27" height="1.06" fill="#eea13d"/>
<rect x="208.53" y="393.14" width="11.27" height="1.0" fill="#d46113"/>
<rect x="208.53" y="416.03" width="11.27" height="1.0" fill="#d46113"/>
<rect x="208.53" y="421.28" width="11.27" height="1.06" fill="#f6d694"/>
<rect x="219.50" y="172.06" width="11.27" height="1.41" fill="#fcc35c"/>
<rect x="219.50" y="194.06" width="11.27" height="1.41" fill="#b1c1de"/>
<rect x="219.50" y="195.5" width="11.27" height="1.0" fill="#eea13d"/>
<rect x="219.50" y="201.99" width="11.27" height="1.41" fill="#d46113"/>
<rect x="219.50" y="212.02" width="11.27" height="1.41" fill="#fbbb4e"/>
<rect x="219.50" y="213.63" width="11.27" height="1.0" fill="#f4ae45"/>
<rect x="219.50" y="215.01" width="11.27" height="1.76" fill="#fdd07c"/>
<rect x="219.50" y="220.47" width="11.27" height="1.41" fill="#d96d1c"/>
<rect x="219.50" y="232.97" width="11.27" height="1.06" fill="#d46113"/>
<rect x="219.50" y="239.84" width="11.27" height="1.41" fill="#d96d1c"/>
<rect x="219.50" y="252.16" width="11.27" height="1.41" fill="#de7924"/>
<rect x="219.50" y="261.64" width="11.27" height="1.06" fill="#e4882e"/>
<rect x="219.50" y="263.4" width="11.27" height="1.76" fill="#cdcbcb"/>
<rect x="219.50" y="265.87" width="11.27" height="1.06" fill="#fcc35c"/>
<rect x="219.50" y="268.18" width="11.27" height="1.0" fill="#e99435"/>
<rect x="219.50" y="269.39" width="11.27" height="1.06" fill="#000080"/>
<rect x="219.50" y="270.82" width="11.27" height="1.0" fill="#fbbb4e"/>
<rect x="219.50" y="273.44" width="11.27" height="1.06" fill="#fdca6a"/>
<rect x="219.50" y="275.2" width="11.27" height="1.06" fill="#fbbb4e"/>
<rect x="219.50" y="281.36" width="11.27" height="1.06" fill="#fdd07c"/>
<rect x="219.50" y="283.47" width="11.27" height="1.06" fill="#f4ae45"/>
<rect x="219.50" y="289.81" width="11.27" height="1.76" fill="#fdca6a"/>
<rect x="219.50" y="297.2" width="11.27" height="1.06" fill="#fbbb4e"/>
<rect x="219.50" y="298.44" width="11.27" height="1.41" fill="#95b5d8"/>
<rect x="219.50" y="300.4" width="11.27" height="1.0" fill="#fbbb4e"/>
<rect x="219.50" y="314.97" width="11.27" height="1.41" fill="#de7924"/>
<rect x="219.50" y="328.03" width="11.27" height="1.0" fill="#d46113"/>
<rect x="219.50" y="331.55" width="11.27" height="1.0" fill="#d46113"/>
<rect x="219.50" y="334.54" width="11.27" height="1.0" fill="#d46113"/>
<rect x="219.50" y="342.61" width="11.27" height="1.76" fill="#fdd488"/>
<rect x="219.50" y="345.08" width="11.27" height="1.06" fill="#fcc35c"/>
<rect x="219.50" y="346.85" width="11.27" height="1.0" fill="#a9bfdc"/>
<rect x="219.50" y="349.64" width="11.27" height="1.76" fill="#fdca6a"/>
<rect x="219.50" y="352.63" width="11.27" height="1.06" fill="#eea13d"/>
<rect x="219.50" y="354.04" width="11.27" height="1.76" fill="#fdd07c"/>
<rect x="219.50" y="356.68" width="11.27" height="1.06" fill="#a9bfdc"/>
<rect x="219.50" y="357.74" width="11.27" height="1.41" fill="#cdcbcb"/>
<rect x="219.50" y="359.5" width="11.27" height="1.41" fill="#e9d7ac"/>
<rect x="219.50" y="361.46" width="11.27" height="1.0" fill="#fbbb4e"/>
<rect x="219.50" y="366.72" width="11.27" height="1.06" fill="#fbbb4e"/>
<rect x="219.50" y="369.36" width="11.27" height="1.06" fill="#fdca6a"/>
<rect x="219.50" y="377.28" width="11.27" height="1.06" fill="#fdca6a"/>
<rect x="219.50" y="378.69" width="11.27" height="1.76" fill="#f6d694"/>
<rect x="219.50" y="381.33" width="11.27" height="1.76" fill="#f0d7a1"/>
<rect x="219.50" y="383.62" width="11.27" height="1.41" fill="#b8c4e0"/>
<rect x="219.50" y="385.23" width="11.27" height="1.0" fill="#fbbb4e"/>
<rect x="219.50" y="395.75" width="11.27" height="1.76" fill="#fdd488"/>
<rect x="219.50" y="410.19" width="11.27" height="1.06" fill="#fdca6a"/>
<rect x="219.50" y="411.63" width="11.27" height="1.0" fill="#a9bfdc"/>
<rect x="219.50" y="412.86" width="11.27" height="1.0" fill="#fcc35c"/>
<rect x="219.50" y="417.58" width="11.27" height="1.41" fill="#d96d1c"/>
<rect x="219.50" y="427.09" width="11.27" height="1.06" fill="#fdca6a"/>
<rect x="219.50" y="429.2" width="11.27" height="1.06" fill="#f4ae45"/>
<rect x="296.28" y="204.8" width="11.27" height="1.76" fill="#e4882e"/>
<rect x="296.28" y="212.55" width="11.27" height="1.41" fill="#d46113"/>
<rect x="296.28" y="227.87" width="11.27" height="1.76" fill="#e4882e"/>
<rect x="296.28" y="242.3" width="11.27" height="1.76" fill="#f4ae45"/>
<rect x="296.28" y="247.96" width="11.27" height="1.0" fill="#d96d1c"/>
<rect x="296.28" y="252.34" width="11.27" height="1.06" fill="#b1c1de"/>
<rect x="296.28" y="253.6" width="11.27" height="1.0" fill="#fcc35c"/>
<rect x="296.28" y="256.77" width="11.27" height="1.0" fill="#d96d1c"/>
<rect x="296.28" y="265.69" width="11.27" height="1.41" fill="#fdca6a"/>
<rect x="296.28" y="267.1" width="11.27" height="1.41" fill="#b1c1de"/>
<rect x="296.28" y="268.71" width="11.27" height="1.0" fill="#fbbb4e"/>
<rect x="296.28" y="271.32" width="11.27" height="1.76" fill="#f0d7a1"/>
<rect x="296.28" y="273.61" width="11.27" height="1.76" fill="#f6d694"/>
<rect x="296.28" y="275.73" width="11.27" height="1.06" fill="#fcc35c"/>
<rect x="296.28" y="284.88" width="11.27" height="1.06" fill="#eea13d"/>
<rect x="296.28" y="286.46" width="11.27" height="1.41" fill="#fdca6a"/>
<rect x="296.28" y="288.75" width="11.27" height="1.06" fill="#f4ae45"/>
<rect x="296.28" y="292.45" width="11.27" height="1.76" fill="#e99435"/>
<rect x="296.28" y="297.38" width="11.27" height="1.41" fill="#f4ae45"/>
<rect x="296.28" y="320.25" width="11.27" height="1.41" fill="#fbbb4e"/>
<rect x="296.28" y="321.84" width="11.27" height="1.06" fill="#fcc35c"/>
<rect x="296.28" y="326.94" width="11.27" height="1.41" fill="#eea13d"/>
<rect x="296.28" y="335.92" width="11.27" height="1.06" fill="#fdd488"/>
<rect x="296.28" y="337.15" width="11.27" height="1.41" fill="#cdcbcb"/>
<rect x="296.28" y="339.09" width="11.27" height="1.06" fill="#fdca6a"/>
<rect x="296.28" y="340.68" width="11.27" height="1.41" fill="#f4ae45"/>
<rect x="296.28" y="355.98" width="11.27" height="1.41" fill="#de7924"/>
<rect x="296.28" y="377.81" width="11.27" height="1.76" fill="#fbbb4e"/>
<rect x="296.28" y="388.37" width="11.27" height="1.76" fill="#f0d7a1"/>
<rect x="296.28" y="391.18" width="11.27" height="1.41" fill="#e4882e"/>
<rect x="296.28" y="395.4" width="11.27" height="1.06" fill="#e4882e"/>
<rect x="296.28" y="400.71" width="11.27" height="1.0" fill="#de7924"/>
<rect x="296.28" y="415.3" width="11.27" height="1.41" fill="#e99435"/>
<rect x="384.03" y="384.75" width="11.27" height="1.06" fill="#e4882e"/>
<rect x="384.03" y="386.54" width="11.27" height="1.0" fill="#e99435"/>
<rect x="384.03" y="387.92" width="11.27" height="1.06" fill="#fdca6a"/>
<rect x="384.03" y="388.98" width="11.27" height="1.41" fill="#95b5d8"/>
<rect x="384.03" y="390.42" width="11.27" height="1.0" fill="#65a4cd"/>
<rect x="384.03" y="391.8" width="11.27" height="1.06" fill="#000080"/>
<rect x="384.03" y="397.61" width="11.27" height="1.76" fill="#fdca6a"/>
<rect x="384.03" y="420.85" width="11.27" height="1.06" fill="#fdd07c"/>
<rect x="384.03" y="430.56" width="11.27" height="1.0" fill="#d46113"/>
</g>
<line x1="38" y1="434.5" x2="44" y2="434.5" stroke="#000" stroke-width="1"/><line x1="47" y1="404.5" x2="395" y2="404.5" stroke="#222" stroke-width="1" stroke-dasharray="1,3.4" opacity="0.3"/><line x1="38" y1="404.5" x2="44" y2="404.5" stroke="#000" stroke-width="1"/><line x1="47" y1="377.5" x2="395" y2="377.5" stroke="#222" stroke-width="1" stroke-dasharray="1,3.4" opacity="0.3"/><line x1="38" y1="377.5" x2="44" y2="377.5" stroke="#000" stroke-width="1"/><line x1="47" y1="347.5" x2="395" y2="347.5" stroke="#222" stroke-width="1" stroke-dasharray="1,3.4" opacity="0.3"/><line x1="38" y1="347.5" x2="44" y2="347.5" stroke="#000" stroke-width="1"/><line x1="47" y1="318.5" x2="395" y2="318.5" stroke="#222" stroke-width="1" stroke-dasharray="1,3.4" opacity="0.3"/><line x1="38" y1="318.5" x2="44" y2="318.5" stroke="#000" stroke-width="1"/><line x1="47" y1="288.5" x2="395" y2="288.5" stroke="#222" stroke-width="1" stroke-dasharray="1,3.4" opacity="0.3"/><line x1="38" y1="288.5" x2="44" y2="288.5" stroke="#000" stroke-width="1"/><line x1="47" y1="259.5" x2="395" y2="259.5" stroke="#222" stroke-width="1" stroke-dasharray="1,3.4" opacity="0.3"/><line x1="38" y1="259.5" x2="44" y2="259.5" stroke="#000" stroke-width="1"/><line x1="47" y1="230.5" x2="395" y2="230.5" stroke="#222" stroke-width="1" stroke-dasharray="1,3.4" opacity="0.3"/><line x1="38" y1="230.5" x2="44" y2="230.5" stroke="#000" stroke-width="1"/><line x1="47" y1="200.5" x2="395" y2="200.5" stroke="#222" stroke-width="1" stroke-dasharray="1,3.4" opacity="0.3"/><line x1="38" y1="200.5" x2="44" y2="200.5" stroke="#000" stroke-width="1"/><line x1="47" y1="171.5" x2="395" y2="171.5" stroke="#222" stroke-width="1" stroke-dasharray="1,3.4" opacity="0.3"/><line x1="38" y1="171.5" x2="44" y2="171.5" stroke="#000" stroke-width="1"/><line x1="47" y1="141.5" x2="395" y2="141.5" stroke="#222" stroke-width="1" stroke-dasharray="1,3.4" opacity="0.3"/><line x1="38" y1="141.5" x2="44" y2="141.5" stroke="#000" stroke-width="1"/><line x1="47" y1="112.5" x2="395" y2="112.5" stroke="#222" stroke-width="1" stroke-dasharray="1,3.4" opacity="0.3"/><line x1="38" y1="112.5" x2="44" y2="112.5" stroke="#000" stroke-width="1"/>
<rect x="44.5" y="83.5" width="351" height="351" fill="none" stroke="#000" stroke-width="1"/>
<text x="32.3" y="438.6" text-anchor="end" class="tl" textLength="18.50" lengthAdjust="spacingAndGlyphs">Oct</text><text x="32.3" y="408.6" text-anchor="end" class="tl" textLength="20.89" lengthAdjust="spacingAndGlyphs">Nov</text><text x="32.3" y="381.6" text-anchor="end" class="tl" textLength="20.71" lengthAdjust="spacingAndGlyphs">Dec</text><text x="32.3" y="351.6" text-anchor="end" class="tl" textLength="16.49" lengthAdjust="spacingAndGlyphs">Jan</text><text x="32.3" y="322.6" text-anchor="end" class="tl" textLength="18.95" lengthAdjust="spacingAndGlyphs">Feb</text><text x="32.3" y="292.6" text-anchor="end" class="tl" textLength="20.19" lengthAdjust="spacingAndGlyphs">Mar</text><text x="32.3" y="263.6" text-anchor="end" class="tl" textLength="18.51" lengthAdjust="spacingAndGlyphs">Apr</text><text x="32.3" y="234.6" text-anchor="end" class="tl" textLength="22.12" lengthAdjust="spacingAndGlyphs">May</text><text x="32.3" y="204.6" text-anchor="end" class="tl" textLength="16.72" lengthAdjust="spacingAndGlyphs">Jun</text><text x="32.3" y="175.6" text-anchor="end" class="tl" textLength="12.91" lengthAdjust="spacingAndGlyphs">Jul</text><text x="32.3" y="145.6" text-anchor="end" class="tl" textLength="20.89" lengthAdjust="spacingAndGlyphs">Aug</text><text x="32.3" y="116.6" text-anchor="end" class="tl" textLength="20.17" lengthAdjust="spacingAndGlyphs">Sep</text>
<line x1="49.5" y1="435" x2="49.5" y2="440" stroke="#000" stroke-width="1"/><text transform="translate(54.00,447.3) rotate(-90)" text-anchor="end" class="tl" style="font-size:10.3px" textLength="27.23" lengthAdjust="spacingAndGlyphs">1995</text><line x1="60.5" y1="435" x2="60.5" y2="440" stroke="#000" stroke-width="1"/><text transform="translate(65.00,447.3) rotate(-90)" text-anchor="end" class="tl" style="font-size:10.3px" textLength="27.23" lengthAdjust="spacingAndGlyphs">1996</text><line x1="71.5" y1="435" x2="71.5" y2="440" stroke="#000" stroke-width="1"/><text transform="translate(76.00,447.3) rotate(-90)" text-anchor="end" class="tl" style="font-size:10.3px" textLength="27.23" lengthAdjust="spacingAndGlyphs">1997</text><line x1="82.5" y1="435" x2="82.5" y2="440" stroke="#000" stroke-width="1"/><text transform="translate(87.00,447.3) rotate(-90)" text-anchor="end" class="tl" style="font-size:10.3px" textLength="27.23" lengthAdjust="spacingAndGlyphs">1998</text><line x1="93.5" y1="435" x2="93.5" y2="440" stroke="#000" stroke-width="1"/><text transform="translate(98.00,447.3) rotate(-90)" text-anchor="end" class="tl" style="font-size:10.3px" textLength="27.23" lengthAdjust="spacingAndGlyphs">1999</text><line x1="104.5" y1="435" x2="104.5" y2="440" stroke="#000" stroke-width="1"/><text transform="translate(109.00,447.3) rotate(-90)" text-anchor="end" class="tl" style="font-size:10.3px" textLength="27.23" lengthAdjust="spacingAndGlyphs">2000</text><line x1="115.5" y1="435" x2="115.5" y2="440" stroke="#000" stroke-width="1"/><text transform="translate(120.00,447.3) rotate(-90)" text-anchor="end" class="tl" style="font-size:10.3px" textLength="27.23" lengthAdjust="spacingAndGlyphs">2001</text><line x1="126.5" y1="435" x2="126.5" y2="440" stroke="#000" stroke-width="1"/><text transform="translate(131.00,447.3) rotate(-90)" text-anchor="end" class="tl" style="font-size:10.3px" textLength="27.23" lengthAdjust="spacingAndGlyphs">2002</text><line x1="137.5" y1="435" x2="137.5" y2="440" stroke="#000" stroke-width="1"/><text transform="translate(142.00,447.3) rotate(-90)" text-anchor="end" class="tl" style="font-size:10.3px" textLength="27.23" lengthAdjust="spacingAndGlyphs">2003</text><line x1="148.5" y1="435" x2="148.5" y2="440" stroke="#000" stroke-width="1"/><text transform="translate(153.00,447.3) rotate(-90)" text-anchor="end" class="tl" style="font-size:10.3px" textLength="27.23" lengthAdjust="spacingAndGlyphs">2004</text><line x1="159.5" y1="435" x2="159.5" y2="440" stroke="#000" stroke-width="1"/><text transform="translate(164.00,447.3) rotate(-90)" text-anchor="end" class="tl" style="font-size:10.3px" textLength="27.23" lengthAdjust="spacingAndGlyphs">2005</text><line x1="170.5" y1="435" x2="170.5" y2="440" stroke="#000" stroke-width="1"/><text transform="translate(175.00,447.3) rotate(-90)" text-anchor="end" class="tl" style="font-size:10.3px" textLength="27.23" lengthAdjust="spacingAndGlyphs">2006</text><line x1="181.5" y1="435" x2="181.5" y2="440" stroke="#000" stroke-width="1"/><text transform="translate(186.00,447.3) rotate(-90)" text-anchor="end" class="tl" style="font-size:10.3px" textLength="27.23" lengthAdjust="spacingAndGlyphs">2007</text><line x1="192.5" y1="435" x2="192.5" y2="440" stroke="#000" stroke-width="1"/><text transform="translate(197.00,447.3) rotate(-90)" text-anchor="end" class="tl" style="font-size:10.3px" textLength="27.23" lengthAdjust="spacingAndGlyphs">2008</text><line x1="203.5" y1="435" x2="203.5" y2="440" stroke="#000" stroke-width="1"/><text transform="translate(208.00,447.3) rotate(-90)" text-anchor="end" class="tl" style="font-size:10.3px" textLength="27.23" lengthAdjust="spacingAndGlyphs">2009</text><line x1="214.5" y1="435" x2="214.5" y2="440" stroke="#000" stroke-width="1"/><text transform="translate(219.00,447.3) rotate(-90)" text-anchor="end" class="tl" style="font-size:10.3px" textLength="27.23" lengthAdjust="spacingAndGlyphs">2010</text><line x1="224.5" y1="435" x2="224.5" y2="440" stroke="#000" stroke-width="1"/><text transform="translate(229.00,447.3) rotate(-90)" text-anchor="end" class="tl" style="font-size:10.3px" textLength="27.23" lengthAdjust="spacingAndGlyphs">2011</text><line x1="235.5" y1="435" x2="235.5" y2="440" stroke="#000" stroke-width="1"/><text transform="translate(240.00,447.3) rotate(-90)" text-anchor="end" class="tl" style="font-size:10.3px" textLength="27.23" lengthAdjust="spacingAndGlyphs">2012</text><line x1="246.5" y1="435" x2="246.5" y2="440" stroke="#000" stroke-width="1"/><text transform="translate(251.00,447.3) rotate(-90)" text-anchor="end" class="tl" style="font-size:10.3px" textLength="27.23" lengthAdjust="spacingAndGlyphs">2013</text><line x1="257.5" y1="435" x2="257.5" y2="440" stroke="#000" stroke-width="1"/><text transform="translate(262.00,447.3) rotate(-90)" text-anchor="end" class="tl" style="font-size:10.3px" textLength="27.23" lengthAdjust="spacingAndGlyphs">2014</text><line x1="268.5" y1="435" x2="268.5" y2="440" stroke="#000" stroke-width="1"/><text transform="translate(273.00,447.3) rotate(-90)" text-anchor="end" class="tl" style="font-size:10.3px" textLength="27.23" lengthAdjust="spacingAndGlyphs">2015</text><line x1="279.5" y1="435" x2="279.5" y2="440" stroke="#000" stroke-width="1"/><text transform="translate(284.00,447.3) rotate(-90)" text-anchor="end" class="tl" style="font-size:10.3px" textLength="27.23" lengthAdjust="spacingAndGlyphs">2016</text><line x1="290.5" y1="435" x2="290.5" y2="440" stroke="#000" stroke-width="1"/><text transform="translate(295.00,447.3) rotate(-90)" text-anchor="end" class="tl" style="font-size:10.3px" textLength="27.23" lengthAdjust="spacingAndGlyphs">2017</text><line x1="301.5" y1="435" x2="301.5" y2="440" stroke="#000" stroke-width="1"/><text transform="translate(306.00,447.3) rotate(-90)" text-anchor="end" class="tl" style="font-size:10.3px" textLength="27.23" lengthAdjust="spacingAndGlyphs">2018</text><line x1="312.5" y1="435" x2="312.5" y2="440" stroke="#000" stroke-width="1"/><text transform="translate(317.00,447.3) rotate(-90)" text-anchor="end" class="tl" style="font-size:10.3px" textLength="27.23" lengthAdjust="spacingAndGlyphs">2019</text><line x1="323.5" y1="435" x2="323.5" y2="440" stroke="#000" stroke-width="1"/><text transform="translate(328.00,447.3) rotate(-90)" text-anchor="end" class="tl" style="font-size:10.3px" textLength="27.23" lengthAdjust="spacingAndGlyphs">2020</text><line x1="334.5" y1="435" x2="334.5" y2="440" stroke="#000" stroke-width="1"/><text transform="translate(339.00,447.3) rotate(-90)" text-anchor="end" class="tl" style="font-size:10.3px" textLength="27.23" lengthAdjust="spacingAndGlyphs">2021</text><line x1="345.5" y1="435" x2="345.5" y2="440" stroke="#000" stroke-width="1"/><text transform="translate(350.00,447.3) rotate(-90)" text-anchor="end" class="tl" style="font-size:10.3px" textLength="27.23" lengthAdjust="spacingAndGlyphs">2022</text><line x1="356.5" y1="435" x2="356.5" y2="440" stroke="#000" stroke-width="1"/><text transform="translate(361.00,447.3) rotate(-90)" text-anchor="end" class="tl" style="font-size:10.3px" textLength="27.23" lengthAdjust="spacingAndGlyphs">2023</text><line x1="367.5" y1="435" x2="367.5" y2="440" stroke="#000" stroke-width="1"/><text transform="translate(372.00,447.3) rotate(-90)" text-anchor="end" class="tl" style="font-size:10.3px" textLength="27.23" lengthAdjust="spacingAndGlyphs">2024</text><line x1="378.5" y1="435" x2="378.5" y2="440" stroke="#000" stroke-width="1"/><text transform="translate(383.00,447.3) rotate(-90)" text-anchor="end" class="tl" style="font-size:10.3px" textLength="27.23" lengthAdjust="spacingAndGlyphs">2025</text><line x1="389.5" y1="435" x2="389.5" y2="440" stroke="#000" stroke-width="1"/><text transform="translate(394.00,447.3) rotate(-90)" text-anchor="end" class="tl" style="font-size:10.3px" textLength="27.23" lengthAdjust="spacingAndGlyphs">2026</text>
<rect x="403.5" y="83.5" width="18" height="351" fill="url(#cb)" stroke="#000" stroke-width="1"/>
<line x1="422" y1="434.5" x2="427" y2="434.5" stroke="#000" stroke-width="1"/><text x="437" y="438.4" class="tl" textLength="6.81" lengthAdjust="spacingAndGlyphs">0</text><line x1="422" y1="355.5" x2="427" y2="355.5" stroke="#000" stroke-width="1"/><text x="437" y="359.4" class="tl" textLength="17.02" lengthAdjust="spacingAndGlyphs">0.5</text><line x1="422" y1="276.5" x2="427" y2="276.5" stroke="#000" stroke-width="1"/><text x="437" y="280.4" class="tl" textLength="6.81" lengthAdjust="spacingAndGlyphs">1</text><line x1="422" y1="197.5" x2="427" y2="197.5" stroke="#000" stroke-width="1"/><text x="437" y="201.4" class="tl" textLength="17.02" lengthAdjust="spacingAndGlyphs">1.5</text><line x1="422" y1="118.5" x2="427" y2="118.5" stroke="#000" stroke-width="1"/><text x="437" y="122.4" class="tl" textLength="6.81" lengthAdjust="spacingAndGlyphs">2</text><line x1="422" y1="83.5" x2="427" y2="83.5" stroke="#000" stroke-width="1"/><text x="437" y="87.4" class="tl" textLength="43.00" lengthAdjust="spacingAndGlyphs">&gt; 2.220</text>
<text transform="translate(498.2,285.9) rotate(-90)" class="tl" style="font-weight:bold;font-size:13px;stroke:#1a1a1a;stroke-width:0.2px" textLength="54" lengthAdjust="spacingAndGlyphs">Scale (in)</text>
<text x="5" y="489.3" class="ft" textLength="209" lengthAdjust="spacingAndGlyphs">www.cbr.washington.edu/sacramento/</text>
<text x="494.3" y="489.3" text-anchor="end" class="ft" textLength="144.5" lengthAdjust="spacingAndGlyphs">23 Nov 2025 15:48:56 PST</text>
</svg>
</body></html>
